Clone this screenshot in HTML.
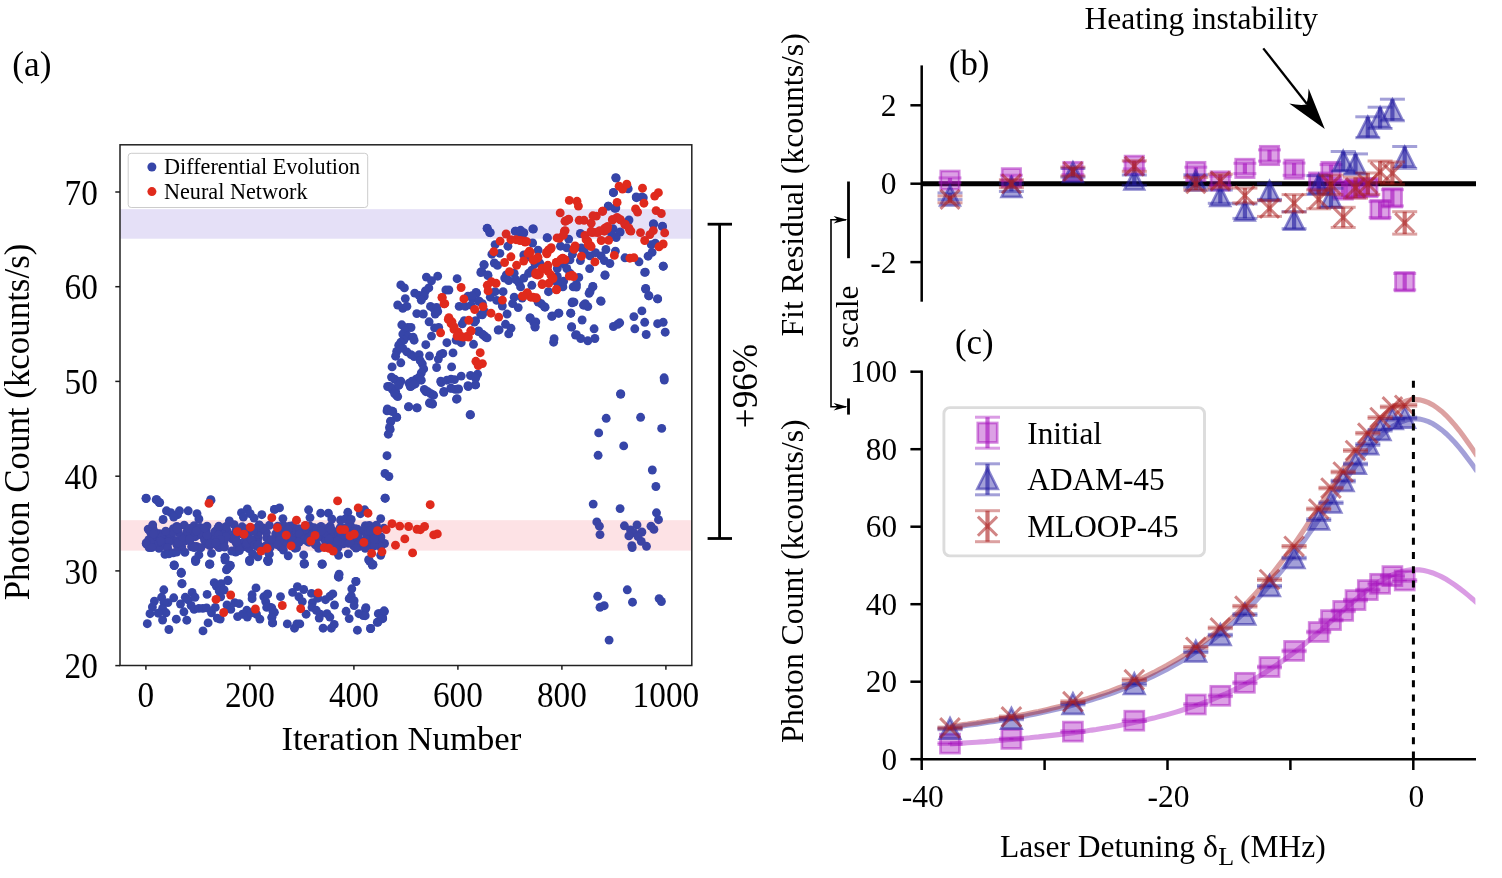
<!DOCTYPE html>
<html lang="en"><head><meta charset="utf-8"><title>Figure</title>
<style>html,body{margin:0;padding:0;background:#fff}svg{display:block}</style></head>
<body>
<svg width="1502" height="878" viewBox="0 0 1502 878" font-family="'Liberation Serif', serif">
<rect width="1502" height="878" fill="#fff"/>
<g id="panel-a">
<rect x="120.3" y="209.2" width="571" height="29.5" fill="#ece8f9"/>
<rect x="120.3" y="520.2" width="571" height="30.4" fill="#feeaec"/>
<g fill="#3645a8">
<circle cx="146.1" cy="498.5" r="4.45"/>
<circle cx="156.2" cy="499.7" r="4.45"/>
<circle cx="159.2" cy="502.5" r="4.45"/>
<circle cx="210.6" cy="499.7" r="4.45"/>
<circle cx="174.2" cy="565.5" r="4.45"/>
<circle cx="181.2" cy="573.2" r="4.45"/>
<circle cx="181.9" cy="583.7" r="4.45"/>
<circle cx="209.9" cy="563.9" r="4.45"/>
<circle cx="225.1" cy="557.6" r="4.45"/>
<circle cx="229.7" cy="566.2" r="4.45"/>
<circle cx="227.4" cy="568.6" r="4.45"/>
<circle cx="227.9" cy="580.7" r="4.45"/>
<circle cx="249.6" cy="560.4" r="4.45"/>
<circle cx="267.6" cy="560.4" r="4.45"/>
<circle cx="304.2" cy="563.4" r="4.45"/>
<circle cx="322.2" cy="563.9" r="4.45"/>
<circle cx="338.3" cy="576.7" r="4.45"/>
<circle cx="355.8" cy="581.4" r="4.45"/>
<circle cx="372.2" cy="565.1" r="4.45"/>
<circle cx="195.9" cy="560.4" r="4.45"/>
<circle cx="620.8" cy="394.0" r="4.45"/>
<circle cx="664.3" cy="380.0" r="4.45"/>
<circle cx="606.2" cy="418.3" r="4.45"/>
<circle cx="640.6" cy="417.3" r="4.45"/>
<circle cx="661.7" cy="428.4" r="4.45"/>
<circle cx="598.7" cy="432.9" r="4.45"/>
<circle cx="623.7" cy="445.9" r="4.45"/>
<circle cx="598.1" cy="455.3" r="4.45"/>
<circle cx="652.3" cy="470.0" r="4.45"/>
<circle cx="655.9" cy="486.5" r="4.45"/>
<circle cx="593.2" cy="504.1" r="4.45"/>
<circle cx="620.1" cy="508.6" r="4.45"/>
<circle cx="656.5" cy="512.8" r="4.45"/>
<circle cx="658.5" cy="519.7" r="4.45"/>
<circle cx="596.8" cy="521.9" r="4.45"/>
<circle cx="599.4" cy="526.2" r="4.45"/>
<circle cx="600.0" cy="534.6" r="4.45"/>
<circle cx="624.4" cy="525.8" r="4.45"/>
<circle cx="637.0" cy="524.9" r="4.45"/>
<circle cx="630.5" cy="530.0" r="4.45"/>
<circle cx="641.9" cy="532.0" r="4.45"/>
<circle cx="633.8" cy="532.6" r="4.45"/>
<circle cx="628.9" cy="535.9" r="4.45"/>
<circle cx="638.0" cy="536.5" r="4.45"/>
<circle cx="651.0" cy="526.2" r="4.45"/>
<circle cx="653.9" cy="529.4" r="4.45"/>
<circle cx="641.3" cy="541.4" r="4.45"/>
<circle cx="631.8" cy="545.6" r="4.45"/>
<circle cx="632.2" cy="547.6" r="4.45"/>
<circle cx="646.5" cy="546.3" r="4.45"/>
<circle cx="627.3" cy="589.8" r="4.45"/>
<circle cx="597.7" cy="596.3" r="4.45"/>
<circle cx="604.2" cy="605.7" r="4.45"/>
<circle cx="600.0" cy="607.3" r="4.45"/>
<circle cx="632.5" cy="602.2" r="4.45"/>
<circle cx="659.1" cy="598.6" r="4.45"/>
<circle cx="661.4" cy="601.5" r="4.45"/>
<circle cx="609.1" cy="640.1" r="4.45"/>
<circle cx="387.0" cy="410.9" r="4.45"/>
<circle cx="392.8" cy="411.5" r="4.45"/>
<circle cx="396.7" cy="417.3" r="4.45"/>
<circle cx="390.9" cy="421.6" r="4.45"/>
<circle cx="390.2" cy="429.4" r="4.45"/>
<circle cx="388.3" cy="434.2" r="4.45"/>
<circle cx="387.0" cy="455.7" r="4.45"/>
<circle cx="385.0" cy="473.5" r="4.45"/>
<circle cx="388.9" cy="476.5" r="4.45"/>
<circle cx="385.3" cy="498.2" r="4.45"/>
<circle cx="408.7" cy="406.6" r="4.45"/>
<circle cx="416.8" cy="407.9" r="4.45"/>
<circle cx="429.8" cy="403.4" r="4.45"/>
<circle cx="432.4" cy="404.0" r="4.45"/>
<circle cx="470.1" cy="414.8" r="4.45"/>
<circle cx="456.5" cy="399.2" r="4.45"/>
<circle cx="443.8" cy="392.3" r="4.45"/>
<circle cx="432.8" cy="394.9" r="4.45"/>
<circle cx="425.9" cy="391.7" r="4.45"/>
<circle cx="396.7" cy="395.6" r="4.45"/>
<circle cx="387.6" cy="386.5" r="4.45"/>
<circle cx="392.5" cy="389.7" r="4.45"/>
<circle cx="399.0" cy="384.9" r="4.45"/>
<circle cx="410.3" cy="386.5" r="4.45"/>
<circle cx="415.2" cy="383.9" r="4.45"/>
<circle cx="441.2" cy="382.6" r="4.45"/>
<circle cx="450.9" cy="388.1" r="4.45"/>
<circle cx="457.4" cy="389.1" r="4.45"/>
<circle cx="468.2" cy="386.5" r="4.45"/>
<circle cx="475.3" cy="384.9" r="4.45"/>
<circle cx="365.5" cy="609.0" r="4.45"/>
<circle cx="363.2" cy="615.5" r="4.45"/>
<circle cx="370.7" cy="628.5" r="4.45"/>
<circle cx="377.9" cy="622.0" r="4.45"/>
<circle cx="382.7" cy="618.7" r="4.45"/>
<circle cx="384.4" cy="611.6" r="4.45"/>
<circle cx="379.5" cy="613.8" r="4.45"/>
<circle cx="664.1" cy="377.8" r="4.45"/>
<circle cx="620.5" cy="394.0" r="4.45"/>
<circle cx="553.6" cy="342.2" r="4.45"/>
<circle cx="665.2" cy="332.2" r="4.45"/>
<circle cx="646.2" cy="334.5" r="4.45"/>
<circle cx="634.8" cy="328.8" r="4.45"/>
<circle cx="644.7" cy="322.3" r="4.45"/>
<circle cx="657.6" cy="323.7" r="4.45"/>
<circle cx="663.2" cy="322.3" r="4.45"/>
<circle cx="633.9" cy="316.6" r="4.45"/>
<circle cx="641.9" cy="310.9" r="4.45"/>
<circle cx="613.4" cy="326.5" r="4.45"/>
<circle cx="617.7" cy="324.3" r="4.45"/>
<circle cx="619.7" cy="322.8" r="4.45"/>
<circle cx="657.6" cy="298.9" r="4.45"/>
<circle cx="649.0" cy="295.8" r="4.45"/>
<circle cx="645.6" cy="289.0" r="4.45"/>
<circle cx="644.7" cy="272.4" r="4.45"/>
<circle cx="663.2" cy="266.2" r="4.45"/>
<circle cx="600.6" cy="300.9" r="4.45"/>
<circle cx="590.1" cy="291.5" r="4.45"/>
<circle cx="592.9" cy="286.7" r="4.45"/>
<circle cx="604.9" cy="275.3" r="4.45"/>
<circle cx="572.1" cy="302.9" r="4.45"/>
<circle cx="583.5" cy="305.2" r="4.45"/>
<circle cx="587.8" cy="306.6" r="4.45"/>
<circle cx="570.7" cy="313.2" r="4.45"/>
<circle cx="582.1" cy="320.0" r="4.45"/>
<circle cx="571.6" cy="327.1" r="4.45"/>
<circle cx="594.1" cy="328.8" r="4.45"/>
<circle cx="575.5" cy="335.1" r="4.45"/>
<circle cx="580.7" cy="338.5" r="4.45"/>
<circle cx="587.8" cy="340.8" r="4.45"/>
<circle cx="594.9" cy="338.5" r="4.45"/>
<circle cx="530.0" cy="318.0" r="4.45"/>
<circle cx="533.7" cy="322.3" r="4.45"/>
<circle cx="535.1" cy="327.1" r="4.45"/>
<circle cx="552.2" cy="316.0" r="4.45"/>
<circle cx="558.5" cy="313.2" r="4.45"/>
<circle cx="541.4" cy="303.8" r="4.45"/>
<circle cx="545.1" cy="307.2" r="4.45"/>
<circle cx="615.7" cy="177.6" r="4.45"/>
<circle cx="613.4" cy="192.7" r="4.45"/>
<circle cx="627.7" cy="188.4" r="4.45"/>
<circle cx="636.2" cy="197.0" r="4.45"/>
<circle cx="641.9" cy="197.0" r="4.45"/>
<circle cx="608.3" cy="206.1" r="4.45"/>
<circle cx="614.8" cy="208.4" r="4.45"/>
<circle cx="653.3" cy="224.0" r="4.45"/>
<circle cx="662.4" cy="226.3" r="4.45"/>
<circle cx="532.8" cy="228.9" r="4.45"/>
<circle cx="487.3" cy="228.3" r="4.45"/>
<circle cx="489.6" cy="232.6" r="4.45"/>
<circle cx="515.2" cy="231.2" r="4.45"/>
<circle cx="519.5" cy="232.6" r="4.45"/>
<circle cx="523.7" cy="233.1" r="4.45"/>
<circle cx="547.1" cy="237.7" r="4.45"/>
<circle cx="295.6" cy="546.0" r="4.45"/>
<circle cx="331.7" cy="529.9" r="4.45"/>
<circle cx="217.5" cy="545.5" r="4.45"/>
<circle cx="146.6" cy="544.2" r="4.45"/>
<circle cx="336.9" cy="535.7" r="4.45"/>
<circle cx="218.2" cy="531.2" r="4.45"/>
<circle cx="206.6" cy="535.2" r="4.45"/>
<circle cx="266.6" cy="537.8" r="4.45"/>
<circle cx="384.5" cy="543.5" r="4.45"/>
<circle cx="294.9" cy="548.2" r="4.45"/>
<circle cx="197.1" cy="528.3" r="4.45"/>
<circle cx="292.5" cy="525.6" r="4.45"/>
<circle cx="154.0" cy="536.9" r="4.45"/>
<circle cx="257.4" cy="546.5" r="4.45"/>
<circle cx="296.5" cy="536.8" r="4.45"/>
<circle cx="264.7" cy="530.4" r="4.45"/>
<circle cx="148.2" cy="529.1" r="4.45"/>
<circle cx="311.6" cy="529.3" r="4.45"/>
<circle cx="234.2" cy="524.6" r="4.45"/>
<circle cx="344.8" cy="528.2" r="4.45"/>
<circle cx="209.7" cy="545.6" r="4.45"/>
<circle cx="267.9" cy="544.8" r="4.45"/>
<circle cx="299.1" cy="542.3" r="4.45"/>
<circle cx="167.4" cy="537.5" r="4.45"/>
<circle cx="267.4" cy="545.4" r="4.45"/>
<circle cx="232.2" cy="538.9" r="4.45"/>
<circle cx="159.6" cy="533.8" r="4.45"/>
<circle cx="223.0" cy="528.1" r="4.45"/>
<circle cx="341.5" cy="533.6" r="4.45"/>
<circle cx="380.5" cy="538.7" r="4.45"/>
<circle cx="290.7" cy="539.8" r="4.45"/>
<circle cx="307.9" cy="528.1" r="4.45"/>
<circle cx="251.2" cy="530.2" r="4.45"/>
<circle cx="242.1" cy="526.8" r="4.45"/>
<circle cx="377.9" cy="529.7" r="4.45"/>
<circle cx="306.8" cy="531.7" r="4.45"/>
<circle cx="355.4" cy="540.4" r="4.45"/>
<circle cx="177.0" cy="544.8" r="4.45"/>
<circle cx="372.4" cy="546.2" r="4.45"/>
<circle cx="282.2" cy="528.0" r="4.45"/>
<circle cx="191.6" cy="546.8" r="4.45"/>
<circle cx="278.1" cy="528.8" r="4.45"/>
<circle cx="357.8" cy="539.9" r="4.45"/>
<circle cx="282.2" cy="533.5" r="4.45"/>
<circle cx="244.1" cy="530.2" r="4.45"/>
<circle cx="154.5" cy="545.5" r="4.45"/>
<circle cx="257.7" cy="537.6" r="4.45"/>
<circle cx="222.8" cy="542.5" r="4.45"/>
<circle cx="151.4" cy="533.4" r="4.45"/>
<circle cx="152.7" cy="527.4" r="4.45"/>
<circle cx="377.7" cy="540.3" r="4.45"/>
<circle cx="248.3" cy="537.1" r="4.45"/>
<circle cx="355.1" cy="532.8" r="4.45"/>
<circle cx="287.2" cy="540.9" r="4.45"/>
<circle cx="230.8" cy="537.0" r="4.45"/>
<circle cx="329.2" cy="546.3" r="4.45"/>
<circle cx="181.7" cy="546.9" r="4.45"/>
<circle cx="146.6" cy="542.6" r="4.45"/>
<circle cx="340.1" cy="527.8" r="4.45"/>
<circle cx="246.0" cy="544.1" r="4.45"/>
<circle cx="148.8" cy="539.6" r="4.45"/>
<circle cx="335.9" cy="536.8" r="4.45"/>
<circle cx="319.8" cy="529.9" r="4.45"/>
<circle cx="193.1" cy="533.2" r="4.45"/>
<circle cx="188.5" cy="532.8" r="4.45"/>
<circle cx="373.2" cy="538.3" r="4.45"/>
<circle cx="227.1" cy="531.0" r="4.45"/>
<circle cx="374.1" cy="535.2" r="4.45"/>
<circle cx="380.9" cy="536.9" r="4.45"/>
<circle cx="270.6" cy="546.0" r="4.45"/>
<circle cx="323.8" cy="538.4" r="4.45"/>
<circle cx="247.9" cy="545.6" r="4.45"/>
<circle cx="244.3" cy="546.6" r="4.45"/>
<circle cx="161.9" cy="534.8" r="4.45"/>
<circle cx="270.2" cy="547.3" r="4.45"/>
<circle cx="205.7" cy="543.8" r="4.45"/>
<circle cx="307.9" cy="541.7" r="4.45"/>
<circle cx="296.6" cy="547.8" r="4.45"/>
<circle cx="225.3" cy="534.1" r="4.45"/>
<circle cx="194.1" cy="525.7" r="4.45"/>
<circle cx="196.5" cy="546.5" r="4.45"/>
<circle cx="347.2" cy="527.2" r="4.45"/>
<circle cx="290.4" cy="536.0" r="4.45"/>
<circle cx="288.2" cy="540.3" r="4.45"/>
<circle cx="219.1" cy="547.6" r="4.45"/>
<circle cx="257.3" cy="539.6" r="4.45"/>
<circle cx="298.0" cy="528.9" r="4.45"/>
<circle cx="160.2" cy="534.4" r="4.45"/>
<circle cx="328.9" cy="544.1" r="4.45"/>
<circle cx="320.8" cy="527.2" r="4.45"/>
<circle cx="364.8" cy="543.7" r="4.45"/>
<circle cx="356.2" cy="537.1" r="4.45"/>
<circle cx="365.4" cy="525.6" r="4.45"/>
<circle cx="152.7" cy="525.0" r="4.45"/>
<circle cx="206.1" cy="530.5" r="4.45"/>
<circle cx="190.4" cy="538.1" r="4.45"/>
<circle cx="154.7" cy="538.7" r="4.45"/>
<circle cx="185.3" cy="540.8" r="4.45"/>
<circle cx="150.4" cy="532.0" r="4.45"/>
<circle cx="370.8" cy="537.4" r="4.45"/>
<circle cx="340.4" cy="540.3" r="4.45"/>
<circle cx="292.1" cy="529.1" r="4.45"/>
<circle cx="283.4" cy="525.5" r="4.45"/>
<circle cx="338.0" cy="547.5" r="4.45"/>
<circle cx="350.5" cy="525.7" r="4.45"/>
<circle cx="226.7" cy="532.1" r="4.45"/>
<circle cx="172.5" cy="539.5" r="4.45"/>
<circle cx="337.0" cy="532.0" r="4.45"/>
<circle cx="352.7" cy="543.6" r="4.45"/>
<circle cx="176.4" cy="542.9" r="4.45"/>
<circle cx="357.4" cy="529.2" r="4.45"/>
<circle cx="283.2" cy="539.8" r="4.45"/>
<circle cx="291.8" cy="526.8" r="4.45"/>
<circle cx="304.2" cy="539.7" r="4.45"/>
<circle cx="343.3" cy="543.8" r="4.45"/>
<circle cx="224.0" cy="541.8" r="4.45"/>
<circle cx="353.7" cy="545.9" r="4.45"/>
<circle cx="184.2" cy="525.1" r="4.45"/>
<circle cx="301.7" cy="529.7" r="4.45"/>
<circle cx="280.8" cy="547.2" r="4.45"/>
<circle cx="236.5" cy="530.6" r="4.45"/>
<circle cx="255.1" cy="540.3" r="4.45"/>
<circle cx="169.7" cy="533.6" r="4.45"/>
<circle cx="177.5" cy="540.4" r="4.45"/>
<circle cx="344.9" cy="533.5" r="4.45"/>
<circle cx="234.7" cy="537.4" r="4.45"/>
<circle cx="197.0" cy="530.4" r="4.45"/>
<circle cx="224.6" cy="535.5" r="4.45"/>
<circle cx="165.0" cy="542.6" r="4.45"/>
<circle cx="284.5" cy="531.7" r="4.45"/>
<circle cx="164.0" cy="542.8" r="4.45"/>
<circle cx="176.9" cy="527.7" r="4.45"/>
<circle cx="176.8" cy="526.5" r="4.45"/>
<circle cx="363.1" cy="531.0" r="4.45"/>
<circle cx="219.0" cy="544.5" r="4.45"/>
<circle cx="294.3" cy="529.0" r="4.45"/>
<circle cx="249.8" cy="545.7" r="4.45"/>
<circle cx="235.6" cy="541.6" r="4.45"/>
<circle cx="168.6" cy="542.0" r="4.45"/>
<circle cx="331.9" cy="544.3" r="4.45"/>
<circle cx="307.4" cy="533.4" r="4.45"/>
<circle cx="160.8" cy="537.0" r="4.45"/>
<circle cx="327.4" cy="529.1" r="4.45"/>
<circle cx="209.3" cy="537.4" r="4.45"/>
<circle cx="325.2" cy="546.0" r="4.45"/>
<circle cx="175.6" cy="528.9" r="4.45"/>
<circle cx="337.5" cy="540.0" r="4.45"/>
<circle cx="318.6" cy="548.4" r="4.45"/>
<circle cx="371.0" cy="544.7" r="4.45"/>
<circle cx="332.1" cy="534.0" r="4.45"/>
<circle cx="299.4" cy="528.9" r="4.45"/>
<circle cx="327.8" cy="542.7" r="4.45"/>
<circle cx="318.7" cy="535.2" r="4.45"/>
<circle cx="236.2" cy="534.6" r="4.45"/>
<circle cx="153.4" cy="544.8" r="4.45"/>
<circle cx="275.7" cy="533.8" r="4.45"/>
<circle cx="277.0" cy="541.8" r="4.45"/>
<circle cx="237.0" cy="544.4" r="4.45"/>
<circle cx="366.3" cy="533.8" r="4.45"/>
<circle cx="178.5" cy="542.7" r="4.45"/>
<circle cx="383.9" cy="528.1" r="4.45"/>
<circle cx="316.6" cy="544.3" r="4.45"/>
<circle cx="366.5" cy="527.5" r="4.45"/>
<circle cx="167.4" cy="548.2" r="4.45"/>
<circle cx="173.4" cy="528.7" r="4.45"/>
<circle cx="283.5" cy="535.2" r="4.45"/>
<circle cx="325.7" cy="529.1" r="4.45"/>
<circle cx="365.1" cy="529.7" r="4.45"/>
<circle cx="330.2" cy="526.1" r="4.45"/>
<circle cx="259.1" cy="525.3" r="4.45"/>
<circle cx="220.8" cy="532.0" r="4.45"/>
<circle cx="318.3" cy="535.4" r="4.45"/>
<circle cx="159.0" cy="548.4" r="4.45"/>
<circle cx="358.9" cy="546.5" r="4.45"/>
<circle cx="204.6" cy="534.0" r="4.45"/>
<circle cx="200.0" cy="527.5" r="4.45"/>
<circle cx="153.3" cy="536.6" r="4.45"/>
<circle cx="175.0" cy="528.7" r="4.45"/>
<circle cx="352.1" cy="536.1" r="4.45"/>
<circle cx="189.5" cy="540.6" r="4.45"/>
<circle cx="209.3" cy="537.1" r="4.45"/>
<circle cx="213.4" cy="536.9" r="4.45"/>
<circle cx="296.4" cy="537.4" r="4.45"/>
<circle cx="240.4" cy="543.5" r="4.45"/>
<circle cx="355.2" cy="528.8" r="4.45"/>
<circle cx="178.1" cy="527.2" r="4.45"/>
<circle cx="380.7" cy="547.1" r="4.45"/>
<circle cx="200.8" cy="547.8" r="4.45"/>
<circle cx="195.3" cy="536.7" r="4.45"/>
<circle cx="264.9" cy="546.5" r="4.45"/>
<circle cx="155.1" cy="532.1" r="4.45"/>
<circle cx="289.5" cy="526.1" r="4.45"/>
<circle cx="202.2" cy="535.7" r="4.45"/>
<circle cx="357.0" cy="542.8" r="4.45"/>
<circle cx="344.5" cy="542.8" r="4.45"/>
<circle cx="315.4" cy="544.9" r="4.45"/>
<circle cx="309.1" cy="542.2" r="4.45"/>
<circle cx="217.8" cy="528.5" r="4.45"/>
<circle cx="327.1" cy="528.5" r="4.45"/>
<circle cx="366.3" cy="538.8" r="4.45"/>
<circle cx="224.5" cy="547.0" r="4.45"/>
<circle cx="182.6" cy="536.8" r="4.45"/>
<circle cx="167.4" cy="547.7" r="4.45"/>
<circle cx="283.6" cy="543.8" r="4.45"/>
<circle cx="213.1" cy="543.7" r="4.45"/>
<circle cx="314.2" cy="539.9" r="4.45"/>
<circle cx="373.7" cy="534.9" r="4.45"/>
<circle cx="245.1" cy="541.1" r="4.45"/>
<circle cx="346.0" cy="532.5" r="4.45"/>
<circle cx="306.3" cy="529.5" r="4.45"/>
<circle cx="277.9" cy="543.0" r="4.45"/>
<circle cx="161.1" cy="542.0" r="4.45"/>
<circle cx="149.1" cy="547.5" r="4.45"/>
<circle cx="258.0" cy="534.3" r="4.45"/>
<circle cx="318.5" cy="537.1" r="4.45"/>
<circle cx="321.0" cy="526.5" r="4.45"/>
<circle cx="280.6" cy="537.9" r="4.45"/>
<circle cx="369.3" cy="525.5" r="4.45"/>
<circle cx="254.2" cy="539.6" r="4.45"/>
<circle cx="277.7" cy="526.3" r="4.45"/>
<circle cx="287.9" cy="529.8" r="4.45"/>
<circle cx="192.4" cy="545.6" r="4.45"/>
<circle cx="192.9" cy="535.4" r="4.45"/>
<circle cx="325.6" cy="541.5" r="4.45"/>
<circle cx="278.3" cy="543.9" r="4.45"/>
<circle cx="257.3" cy="539.4" r="4.45"/>
<circle cx="342.1" cy="540.8" r="4.45"/>
<circle cx="299.6" cy="534.2" r="4.45"/>
<circle cx="279.5" cy="534.0" r="4.45"/>
<circle cx="324.2" cy="533.6" r="4.45"/>
<circle cx="257.5" cy="542.6" r="4.45"/>
<circle cx="266.4" cy="532.6" r="4.45"/>
<circle cx="344.0" cy="533.6" r="4.45"/>
<circle cx="348.3" cy="543.3" r="4.45"/>
<circle cx="252.8" cy="541.6" r="4.45"/>
<circle cx="153.6" cy="533.9" r="4.45"/>
<circle cx="352.1" cy="538.4" r="4.45"/>
<circle cx="279.4" cy="540.5" r="4.45"/>
<circle cx="308.2" cy="538.5" r="4.45"/>
<circle cx="246.4" cy="528.9" r="4.45"/>
<circle cx="215.7" cy="531.5" r="4.45"/>
<circle cx="248.9" cy="548.5" r="4.45"/>
<circle cx="230.1" cy="535.2" r="4.45"/>
<circle cx="234.7" cy="538.5" r="4.45"/>
<circle cx="373.1" cy="545.8" r="4.45"/>
<circle cx="236.0" cy="530.9" r="4.45"/>
<circle cx="357.8" cy="536.4" r="4.45"/>
<circle cx="310.1" cy="526.3" r="4.45"/>
<circle cx="353.6" cy="532.0" r="4.45"/>
<circle cx="264.2" cy="529.3" r="4.45"/>
<circle cx="246.3" cy="544.4" r="4.45"/>
<circle cx="344.2" cy="535.9" r="4.45"/>
<circle cx="329.9" cy="535.5" r="4.45"/>
<circle cx="235.1" cy="537.6" r="4.45"/>
<circle cx="193.8" cy="532.1" r="4.45"/>
<circle cx="315.1" cy="543.0" r="4.45"/>
<circle cx="159.0" cy="542.1" r="4.45"/>
<circle cx="341.8" cy="535.2" r="4.45"/>
<circle cx="160.4" cy="540.9" r="4.45"/>
<circle cx="204.5" cy="539.9" r="4.45"/>
<circle cx="235.9" cy="539.8" r="4.45"/>
<circle cx="207.4" cy="535.9" r="4.45"/>
<circle cx="271.4" cy="539.6" r="4.45"/>
<circle cx="194.2" cy="547.6" r="4.45"/>
<circle cx="214.8" cy="531.8" r="4.45"/>
<circle cx="207.0" cy="526.1" r="4.45"/>
<circle cx="247.0" cy="543.0" r="4.45"/>
<circle cx="315.8" cy="529.2" r="4.45"/>
<circle cx="178.3" cy="532.2" r="4.45"/>
<circle cx="329.9" cy="536.2" r="4.45"/>
<circle cx="367.2" cy="540.3" r="4.45"/>
<circle cx="294.5" cy="542.9" r="4.45"/>
<circle cx="325.6" cy="532.8" r="4.45"/>
<circle cx="207.1" cy="535.0" r="4.45"/>
<circle cx="262.9" cy="527.9" r="4.45"/>
<circle cx="251.4" cy="539.9" r="4.45"/>
<circle cx="178.0" cy="527.8" r="4.45"/>
<circle cx="187.1" cy="531.3" r="4.45"/>
<circle cx="376.4" cy="525.1" r="4.45"/>
<circle cx="189.5" cy="528.5" r="4.45"/>
<circle cx="259.3" cy="524.9" r="4.45"/>
<circle cx="255.5" cy="528.4" r="4.45"/>
<circle cx="210.2" cy="543.5" r="4.45"/>
<circle cx="189.6" cy="539.3" r="4.45"/>
<circle cx="243.0" cy="534.5" r="4.45"/>
<circle cx="341.6" cy="528.4" r="4.45"/>
<circle cx="367.3" cy="545.9" r="4.45"/>
<circle cx="305.9" cy="525.7" r="4.45"/>
<circle cx="304.7" cy="538.9" r="4.45"/>
<circle cx="330.9" cy="529.6" r="4.45"/>
<circle cx="374.4" cy="545.8" r="4.45"/>
<circle cx="172.9" cy="532.1" r="4.45"/>
<circle cx="153.2" cy="544.4" r="4.45"/>
<circle cx="365.2" cy="548.3" r="4.45"/>
<circle cx="292.4" cy="540.5" r="4.45"/>
<circle cx="308.4" cy="538.2" r="4.45"/>
<circle cx="374.2" cy="539.1" r="4.45"/>
<circle cx="226.0" cy="536.8" r="4.45"/>
<circle cx="149.9" cy="541.9" r="4.45"/>
<circle cx="312.1" cy="534.6" r="4.45"/>
<circle cx="349.9" cy="542.6" r="4.45"/>
<circle cx="226.3" cy="526.4" r="4.45"/>
<circle cx="177.1" cy="528.9" r="4.45"/>
<circle cx="218.4" cy="535.2" r="4.45"/>
<circle cx="368.3" cy="531.2" r="4.45"/>
<circle cx="361.3" cy="540.8" r="4.45"/>
<circle cx="350.4" cy="534.2" r="4.45"/>
<circle cx="146.2" cy="543.4" r="4.45"/>
<circle cx="204.4" cy="527.9" r="4.45"/>
<circle cx="337.4" cy="541.0" r="4.45"/>
<circle cx="196.4" cy="530.9" r="4.45"/>
<circle cx="371.0" cy="530.9" r="4.45"/>
<circle cx="314.1" cy="527.6" r="4.45"/>
<circle cx="341.2" cy="527.3" r="4.45"/>
<circle cx="269.4" cy="525.3" r="4.45"/>
<circle cx="277.5" cy="544.8" r="4.45"/>
<circle cx="165.7" cy="531.1" r="4.45"/>
<circle cx="329.1" cy="539.1" r="4.45"/>
<circle cx="220.5" cy="539.6" r="4.45"/>
<circle cx="254.6" cy="545.2" r="4.45"/>
<circle cx="215.8" cy="542.7" r="4.45"/>
<circle cx="298.1" cy="542.3" r="4.45"/>
<circle cx="236.3" cy="541.9" r="4.45"/>
<circle cx="313.2" cy="533.8" r="4.45"/>
<circle cx="151.7" cy="547.6" r="4.45"/>
<circle cx="316.8" cy="529.4" r="4.45"/>
<circle cx="320.9" cy="531.2" r="4.45"/>
<circle cx="258.1" cy="545.1" r="4.45"/>
<circle cx="253.0" cy="531.4" r="4.45"/>
<circle cx="218.8" cy="526.3" r="4.45"/>
<circle cx="146.1" cy="498.2" r="4.45"/>
<circle cx="156.8" cy="499.7" r="4.45"/>
<circle cx="159.7" cy="502.6" r="4.45"/>
<circle cx="211.0" cy="500.2" r="4.45"/>
<circle cx="166.5" cy="510.8" r="4.45"/>
<circle cx="170.8" cy="512.7" r="4.45"/>
<circle cx="179.5" cy="510.8" r="4.45"/>
<circle cx="177.6" cy="514.7" r="4.45"/>
<circle cx="188.2" cy="510.8" r="4.45"/>
<circle cx="197.0" cy="513.7" r="4.45"/>
<circle cx="163.1" cy="519.5" r="4.45"/>
<circle cx="247.3" cy="508.9" r="4.45"/>
<circle cx="241.5" cy="512.7" r="4.45"/>
<circle cx="250.2" cy="513.7" r="4.45"/>
<circle cx="261.8" cy="514.7" r="4.45"/>
<circle cx="243.4" cy="517.1" r="4.45"/>
<circle cx="254.1" cy="518.1" r="4.45"/>
<circle cx="229.4" cy="521.0" r="4.45"/>
<circle cx="198.9" cy="519.0" r="4.45"/>
<circle cx="274.4" cy="509.4" r="4.45"/>
<circle cx="173.7" cy="517.1" r="4.45"/>
<circle cx="165.0" cy="554.4" r="4.45"/>
<circle cx="168.9" cy="553.9" r="4.45"/>
<circle cx="173.2" cy="552.9" r="4.45"/>
<circle cx="176.6" cy="552.0" r="4.45"/>
<circle cx="184.9" cy="552.4" r="4.45"/>
<circle cx="195.5" cy="559.7" r="4.45"/>
<circle cx="198.9" cy="554.9" r="4.45"/>
<circle cx="211.5" cy="553.4" r="4.45"/>
<circle cx="209.5" cy="564.1" r="4.45"/>
<circle cx="225.0" cy="557.3" r="4.45"/>
<circle cx="230.4" cy="565.5" r="4.45"/>
<circle cx="226.5" cy="569.9" r="4.45"/>
<circle cx="174.2" cy="565.0" r="4.45"/>
<circle cx="181.3" cy="572.3" r="4.45"/>
<circle cx="235.7" cy="552.0" r="4.45"/>
<circle cx="231.8" cy="551.0" r="4.45"/>
<circle cx="239.5" cy="550.5" r="4.45"/>
<circle cx="252.6" cy="553.9" r="4.45"/>
<circle cx="249.7" cy="560.2" r="4.45"/>
<circle cx="257.9" cy="556.8" r="4.45"/>
<circle cx="268.6" cy="552.9" r="4.45"/>
<circle cx="268.1" cy="560.2" r="4.45"/>
<circle cx="274.7" cy="509.4" r="4.45"/>
<circle cx="279.5" cy="507.9" r="4.45"/>
<circle cx="308.6" cy="509.8" r="4.45"/>
<circle cx="310.0" cy="517.6" r="4.45"/>
<circle cx="320.7" cy="513.2" r="4.45"/>
<circle cx="328.4" cy="513.2" r="4.45"/>
<circle cx="347.8" cy="512.3" r="4.45"/>
<circle cx="364.7" cy="509.8" r="4.45"/>
<circle cx="360.4" cy="513.7" r="4.45"/>
<circle cx="385.0" cy="498.2" r="4.45"/>
<circle cx="380.7" cy="518.6" r="4.45"/>
<circle cx="282.9" cy="518.6" r="4.45"/>
<circle cx="331.8" cy="519.0" r="4.45"/>
<circle cx="340.5" cy="520.0" r="4.45"/>
<circle cx="345.3" cy="519.0" r="4.45"/>
<circle cx="351.2" cy="519.5" r="4.45"/>
<circle cx="269.4" cy="553.9" r="4.45"/>
<circle cx="267.9" cy="560.2" r="4.45"/>
<circle cx="283.4" cy="550.0" r="4.45"/>
<circle cx="288.2" cy="555.8" r="4.45"/>
<circle cx="303.7" cy="554.9" r="4.45"/>
<circle cx="304.2" cy="564.1" r="4.45"/>
<circle cx="322.1" cy="564.1" r="4.45"/>
<circle cx="338.6" cy="555.3" r="4.45"/>
<circle cx="348.3" cy="553.9" r="4.45"/>
<circle cx="339.1" cy="574.2" r="4.45"/>
<circle cx="368.6" cy="559.7" r="4.45"/>
<circle cx="372.9" cy="564.5" r="4.45"/>
<circle cx="380.7" cy="555.3" r="4.45"/>
<circle cx="356.0" cy="548.1" r="4.45"/>
<circle cx="174.2" cy="565.3" r="4.45"/>
<circle cx="181.2" cy="573.1" r="4.45"/>
<circle cx="182.0" cy="583.7" r="4.45"/>
<circle cx="195.5" cy="561.5" r="4.45"/>
<circle cx="209.7" cy="564.4" r="4.45"/>
<circle cx="229.9" cy="565.3" r="4.45"/>
<circle cx="227.0" cy="569.2" r="4.45"/>
<circle cx="227.9" cy="580.3" r="4.45"/>
<circle cx="214.2" cy="582.7" r="4.45"/>
<circle cx="216.3" cy="586.1" r="4.45"/>
<circle cx="221.2" cy="583.7" r="4.45"/>
<circle cx="256.0" cy="587.9" r="4.45"/>
<circle cx="249.7" cy="561.5" r="4.45"/>
<circle cx="268.1" cy="561.5" r="4.45"/>
<circle cx="225.0" cy="560.0" r="4.45"/>
<circle cx="163.8" cy="589.8" r="4.45"/>
<circle cx="161.6" cy="597.3" r="4.45"/>
<circle cx="154.4" cy="601.1" r="4.45"/>
<circle cx="152.4" cy="607.0" r="4.45"/>
<circle cx="150.0" cy="613.7" r="4.45"/>
<circle cx="147.3" cy="623.7" r="4.45"/>
<circle cx="173.7" cy="597.8" r="4.45"/>
<circle cx="167.9" cy="602.6" r="4.45"/>
<circle cx="164.0" cy="602.6" r="4.45"/>
<circle cx="162.6" cy="608.4" r="4.45"/>
<circle cx="166.0" cy="612.8" r="4.45"/>
<circle cx="158.2" cy="613.2" r="4.45"/>
<circle cx="162.6" cy="620.0" r="4.45"/>
<circle cx="168.9" cy="629.5" r="4.45"/>
<circle cx="176.3" cy="619.2" r="4.45"/>
<circle cx="183.9" cy="611.8" r="4.45"/>
<circle cx="186.8" cy="620.2" r="4.45"/>
<circle cx="180.5" cy="604.0" r="4.45"/>
<circle cx="185.3" cy="597.3" r="4.45"/>
<circle cx="187.8" cy="599.7" r="4.45"/>
<circle cx="192.1" cy="592.4" r="4.45"/>
<circle cx="195.0" cy="597.3" r="4.45"/>
<circle cx="191.1" cy="605.5" r="4.45"/>
<circle cx="194.1" cy="609.4" r="4.45"/>
<circle cx="198.9" cy="608.4" r="4.45"/>
<circle cx="202.8" cy="608.4" r="4.45"/>
<circle cx="206.6" cy="607.9" r="4.45"/>
<circle cx="207.1" cy="594.4" r="4.45"/>
<circle cx="211.5" cy="612.8" r="4.45"/>
<circle cx="215.3" cy="607.4" r="4.45"/>
<circle cx="219.2" cy="591.0" r="4.45"/>
<circle cx="224.1" cy="590.0" r="4.45"/>
<circle cx="220.7" cy="596.8" r="4.45"/>
<circle cx="227.0" cy="605.0" r="4.45"/>
<circle cx="230.8" cy="609.4" r="4.45"/>
<circle cx="234.7" cy="602.6" r="4.45"/>
<circle cx="239.1" cy="603.6" r="4.45"/>
<circle cx="220.2" cy="619.1" r="4.45"/>
<circle cx="217.3" cy="618.1" r="4.45"/>
<circle cx="208.1" cy="622.9" r="4.45"/>
<circle cx="203.0" cy="630.9" r="4.45"/>
<circle cx="237.6" cy="616.6" r="4.45"/>
<circle cx="242.5" cy="614.2" r="4.45"/>
<circle cx="246.8" cy="610.3" r="4.45"/>
<circle cx="247.3" cy="617.1" r="4.45"/>
<circle cx="251.2" cy="612.8" r="4.45"/>
<circle cx="259.9" cy="619.1" r="4.45"/>
<circle cx="256.5" cy="614.2" r="4.45"/>
<circle cx="252.1" cy="594.8" r="4.45"/>
<circle cx="252.1" cy="598.7" r="4.45"/>
<circle cx="263.8" cy="596.8" r="4.45"/>
<circle cx="267.6" cy="593.9" r="4.45"/>
<circle cx="265.7" cy="601.6" r="4.45"/>
<circle cx="266.7" cy="607.4" r="4.45"/>
<circle cx="270.5" cy="607.4" r="4.45"/>
<circle cx="272.0" cy="617.1" r="4.45"/>
<circle cx="272.5" cy="622.9" r="4.45"/>
<circle cx="274.4" cy="612.3" r="4.45"/>
<circle cx="268.4" cy="561.0" r="4.45"/>
<circle cx="304.5" cy="563.9" r="4.45"/>
<circle cx="322.1" cy="564.4" r="4.45"/>
<circle cx="369.5" cy="561.0" r="4.45"/>
<circle cx="372.9" cy="564.8" r="4.45"/>
<circle cx="338.8" cy="577.2" r="4.45"/>
<circle cx="356.0" cy="581.5" r="4.45"/>
<circle cx="351.8" cy="588.8" r="4.45"/>
<circle cx="267.4" cy="594.4" r="4.45"/>
<circle cx="280.5" cy="596.6" r="4.45"/>
<circle cx="267.9" cy="606.5" r="4.45"/>
<circle cx="271.8" cy="607.9" r="4.45"/>
<circle cx="273.2" cy="612.3" r="4.45"/>
<circle cx="271.8" cy="617.6" r="4.45"/>
<circle cx="272.7" cy="622.9" r="4.45"/>
<circle cx="292.6" cy="592.4" r="4.45"/>
<circle cx="297.4" cy="586.6" r="4.45"/>
<circle cx="303.7" cy="589.5" r="4.45"/>
<circle cx="298.9" cy="596.8" r="4.45"/>
<circle cx="302.3" cy="601.6" r="4.45"/>
<circle cx="311.5" cy="593.4" r="4.45"/>
<circle cx="312.4" cy="602.6" r="4.45"/>
<circle cx="312.0" cy="607.4" r="4.45"/>
<circle cx="316.3" cy="610.3" r="4.45"/>
<circle cx="317.8" cy="598.2" r="4.45"/>
<circle cx="320.2" cy="614.2" r="4.45"/>
<circle cx="319.2" cy="618.1" r="4.45"/>
<circle cx="327.0" cy="613.7" r="4.45"/>
<circle cx="329.9" cy="617.1" r="4.45"/>
<circle cx="325.5" cy="599.7" r="4.45"/>
<circle cx="329.9" cy="596.3" r="4.45"/>
<circle cx="332.8" cy="593.9" r="4.45"/>
<circle cx="334.5" cy="605.0" r="4.45"/>
<circle cx="306.1" cy="614.2" r="4.45"/>
<circle cx="287.3" cy="623.9" r="4.45"/>
<circle cx="294.5" cy="628.2" r="4.45"/>
<circle cx="296.9" cy="623.9" r="4.45"/>
<circle cx="299.8" cy="623.9" r="4.45"/>
<circle cx="323.1" cy="628.2" r="4.45"/>
<circle cx="331.3" cy="628.2" r="4.45"/>
<circle cx="334.2" cy="624.4" r="4.45"/>
<circle cx="346.1" cy="611.3" r="4.45"/>
<circle cx="349.2" cy="618.6" r="4.45"/>
<circle cx="349.2" cy="598.7" r="4.45"/>
<circle cx="351.2" cy="595.8" r="4.45"/>
<circle cx="354.1" cy="600.7" r="4.45"/>
<circle cx="354.1" cy="605.5" r="4.45"/>
<circle cx="358.9" cy="613.7" r="4.45"/>
<circle cx="365.2" cy="615.7" r="4.45"/>
<circle cx="365.9" cy="607.7" r="4.45"/>
<circle cx="357.4" cy="630.2" r="4.45"/>
<circle cx="370.5" cy="628.5" r="4.45"/>
<circle cx="377.3" cy="622.4" r="4.45"/>
<circle cx="378.3" cy="613.7" r="4.45"/>
<circle cx="382.6" cy="617.6" r="4.45"/>
<circle cx="384.1" cy="610.8" r="4.45"/>
<circle cx="426.4" cy="277.1" r="4.45"/>
<circle cx="437.7" cy="276.2" r="4.45"/>
<circle cx="431.5" cy="280.8" r="4.45"/>
<circle cx="457.1" cy="278.7" r="4.45"/>
<circle cx="400.8" cy="284.9" r="4.45"/>
<circle cx="404.4" cy="287.9" r="4.45"/>
<circle cx="428.8" cy="287.9" r="4.45"/>
<circle cx="425.4" cy="291.0" r="4.45"/>
<circle cx="414.7" cy="293.1" r="4.45"/>
<circle cx="419.2" cy="295.5" r="4.45"/>
<circle cx="424.3" cy="296.1" r="4.45"/>
<circle cx="405.3" cy="298.6" r="4.45"/>
<circle cx="421.3" cy="300.2" r="4.45"/>
<circle cx="397.7" cy="305.0" r="4.45"/>
<circle cx="402.8" cy="308.4" r="4.45"/>
<circle cx="406.9" cy="306.4" r="4.45"/>
<circle cx="430.5" cy="306.4" r="4.45"/>
<circle cx="433.6" cy="308.4" r="4.45"/>
<circle cx="436.6" cy="307.4" r="4.45"/>
<circle cx="445.9" cy="290.0" r="4.45"/>
<circle cx="448.9" cy="290.0" r="4.45"/>
<circle cx="416.8" cy="313.6" r="4.45"/>
<circle cx="423.3" cy="314.0" r="4.45"/>
<circle cx="435.2" cy="314.0" r="4.45"/>
<circle cx="437.7" cy="311.5" r="4.45"/>
<circle cx="429.1" cy="321.8" r="4.45"/>
<circle cx="434.6" cy="327.9" r="4.45"/>
<circle cx="438.7" cy="327.5" r="4.45"/>
<circle cx="431.5" cy="336.1" r="4.45"/>
<circle cx="446.9" cy="342.7" r="4.45"/>
<circle cx="425.8" cy="344.7" r="4.45"/>
<circle cx="429.5" cy="356.0" r="4.45"/>
<circle cx="440.3" cy="354.6" r="4.45"/>
<circle cx="442.8" cy="353.5" r="4.45"/>
<circle cx="438.3" cy="359.1" r="4.45"/>
<circle cx="453.0" cy="352.9" r="4.45"/>
<circle cx="436.6" cy="367.5" r="4.45"/>
<circle cx="451.6" cy="366.9" r="4.45"/>
<circle cx="459.2" cy="306.4" r="4.45"/>
<circle cx="465.3" cy="306.4" r="4.45"/>
<circle cx="468.0" cy="296.1" r="4.45"/>
<circle cx="472.5" cy="298.2" r="4.45"/>
<circle cx="476.6" cy="293.1" r="4.45"/>
<circle cx="481.7" cy="271.5" r="4.45"/>
<circle cx="484.2" cy="264.8" r="4.45"/>
<circle cx="487.9" cy="275.6" r="4.45"/>
<circle cx="478.7" cy="301.3" r="4.45"/>
<circle cx="482.4" cy="303.7" r="4.45"/>
<circle cx="480.7" cy="314.6" r="4.45"/>
<circle cx="475.6" cy="320.7" r="4.45"/>
<circle cx="464.3" cy="320.7" r="4.45"/>
<circle cx="462.3" cy="323.8" r="4.45"/>
<circle cx="473.5" cy="344.3" r="4.45"/>
<circle cx="461.2" cy="342.7" r="4.45"/>
<circle cx="456.1" cy="340.2" r="4.45"/>
<circle cx="478.7" cy="331.0" r="4.45"/>
<circle cx="482.4" cy="334.1" r="4.45"/>
<circle cx="485.8" cy="337.1" r="4.45"/>
<circle cx="498.2" cy="330.0" r="4.45"/>
<circle cx="401.8" cy="324.8" r="4.45"/>
<circle cx="407.9" cy="327.5" r="4.45"/>
<circle cx="411.0" cy="327.5" r="4.45"/>
<circle cx="404.9" cy="331.0" r="4.45"/>
<circle cx="402.8" cy="334.1" r="4.45"/>
<circle cx="407.9" cy="336.1" r="4.45"/>
<circle cx="413.1" cy="337.1" r="4.45"/>
<circle cx="414.1" cy="340.2" r="4.45"/>
<circle cx="403.8" cy="340.2" r="4.45"/>
<circle cx="400.8" cy="342.3" r="4.45"/>
<circle cx="398.7" cy="345.3" r="4.45"/>
<circle cx="402.8" cy="348.4" r="4.45"/>
<circle cx="396.7" cy="351.5" r="4.45"/>
<circle cx="395.6" cy="356.2" r="4.45"/>
<circle cx="400.8" cy="362.8" r="4.45"/>
<circle cx="392.1" cy="366.9" r="4.45"/>
<circle cx="406.9" cy="351.9" r="4.45"/>
<circle cx="411.0" cy="354.6" r="4.45"/>
<circle cx="414.1" cy="356.6" r="4.45"/>
<circle cx="419.2" cy="354.6" r="4.45"/>
<circle cx="420.2" cy="360.7" r="4.45"/>
<circle cx="422.3" cy="363.8" r="4.45"/>
<circle cx="423.7" cy="368.9" r="4.45"/>
<circle cx="421.3" cy="373.0" r="4.45"/>
<circle cx="419.2" cy="377.1" r="4.45"/>
<circle cx="416.1" cy="379.2" r="4.45"/>
<circle cx="421.3" cy="380.2" r="4.45"/>
<circle cx="412.0" cy="381.2" r="4.45"/>
<circle cx="409.0" cy="383.3" r="4.45"/>
<circle cx="411.0" cy="386.4" r="4.45"/>
<circle cx="414.1" cy="384.3" r="4.45"/>
<circle cx="391.5" cy="377.1" r="4.45"/>
<circle cx="394.6" cy="379.2" r="4.45"/>
<circle cx="397.7" cy="381.2" r="4.45"/>
<circle cx="400.8" cy="381.2" r="4.45"/>
<circle cx="389.5" cy="386.4" r="4.45"/>
<circle cx="392.6" cy="388.4" r="4.45"/>
<circle cx="395.6" cy="391.5" r="4.45"/>
<circle cx="398.7" cy="385.3" r="4.45"/>
<circle cx="397.7" cy="396.6" r="4.45"/>
<circle cx="394.6" cy="393.5" r="4.45"/>
<circle cx="424.3" cy="389.4" r="4.45"/>
<circle cx="427.4" cy="391.5" r="4.45"/>
<circle cx="430.5" cy="393.5" r="4.45"/>
<circle cx="433.6" cy="395.2" r="4.45"/>
<circle cx="429.5" cy="402.8" r="4.45"/>
<circle cx="432.5" cy="403.8" r="4.45"/>
<circle cx="408.5" cy="406.9" r="4.45"/>
<circle cx="417.2" cy="407.9" r="4.45"/>
<circle cx="387.4" cy="408.9" r="4.45"/>
<circle cx="391.5" cy="411.0" r="4.45"/>
<circle cx="396.7" cy="417.1" r="4.45"/>
<circle cx="390.5" cy="421.2" r="4.45"/>
<circle cx="389.5" cy="427.4" r="4.45"/>
<circle cx="440.7" cy="381.2" r="4.45"/>
<circle cx="446.9" cy="380.2" r="4.45"/>
<circle cx="451.0" cy="379.2" r="4.45"/>
<circle cx="454.5" cy="379.6" r="4.45"/>
<circle cx="461.2" cy="376.1" r="4.45"/>
<circle cx="470.5" cy="375.5" r="4.45"/>
<circle cx="477.6" cy="374.1" r="4.45"/>
<circle cx="475.6" cy="378.2" r="4.45"/>
<circle cx="443.8" cy="391.5" r="4.45"/>
<circle cx="451.0" cy="388.4" r="4.45"/>
<circle cx="455.1" cy="389.4" r="4.45"/>
<circle cx="458.6" cy="389.0" r="4.45"/>
<circle cx="468.0" cy="385.7" r="4.45"/>
<circle cx="475.6" cy="384.9" r="4.45"/>
<circle cx="457.1" cy="398.7" r="4.45"/>
<circle cx="470.5" cy="414.7" r="4.45"/>
<circle cx="487.1" cy="228.4" r="4.45"/>
<circle cx="490.3" cy="232.7" r="4.45"/>
<circle cx="515.8" cy="231.1" r="4.45"/>
<circle cx="520.6" cy="230.3" r="4.45"/>
<circle cx="523.8" cy="232.7" r="4.45"/>
<circle cx="533.4" cy="229.0" r="4.45"/>
<circle cx="547.4" cy="237.9" r="4.45"/>
<circle cx="568.7" cy="239.1" r="4.45"/>
<circle cx="532.6" cy="243.0" r="4.45"/>
<circle cx="507.9" cy="246.2" r="4.45"/>
<circle cx="495.1" cy="244.6" r="4.45"/>
<circle cx="491.9" cy="254.2" r="4.45"/>
<circle cx="499.9" cy="253.4" r="4.45"/>
<circle cx="538.1" cy="250.2" r="4.45"/>
<circle cx="523.8" cy="255.0" r="4.45"/>
<circle cx="526.2" cy="257.4" r="4.45"/>
<circle cx="560.5" cy="246.2" r="4.45"/>
<circle cx="566.8" cy="247.8" r="4.45"/>
<circle cx="570.0" cy="259.8" r="4.45"/>
<circle cx="563.6" cy="263.8" r="4.45"/>
<circle cx="557.3" cy="268.5" r="4.45"/>
<circle cx="566.8" cy="268.5" r="4.45"/>
<circle cx="570.0" cy="273.3" r="4.45"/>
<circle cx="557.3" cy="276.5" r="4.45"/>
<circle cx="483.9" cy="264.6" r="4.45"/>
<circle cx="494.3" cy="263.0" r="4.45"/>
<circle cx="497.5" cy="265.4" r="4.45"/>
<circle cx="480.8" cy="272.5" r="4.45"/>
<circle cx="487.9" cy="274.9" r="4.45"/>
<circle cx="506.3" cy="274.9" r="4.45"/>
<circle cx="504.7" cy="278.1" r="4.45"/>
<circle cx="508.7" cy="280.5" r="4.45"/>
<circle cx="514.2" cy="273.3" r="4.45"/>
<circle cx="515.8" cy="279.7" r="4.45"/>
<circle cx="519.0" cy="282.9" r="4.45"/>
<circle cx="523.8" cy="278.1" r="4.45"/>
<circle cx="528.6" cy="273.3" r="4.45"/>
<circle cx="531.8" cy="270.1" r="4.45"/>
<circle cx="520.6" cy="286.9" r="4.45"/>
<circle cx="531.8" cy="285.3" r="4.45"/>
<circle cx="535.0" cy="263.8" r="4.45"/>
<circle cx="539.7" cy="263.0" r="4.45"/>
<circle cx="548.5" cy="291.7" r="4.45"/>
<circle cx="562.9" cy="286.9" r="4.45"/>
<circle cx="563.6" cy="281.3" r="4.45"/>
<circle cx="557.3" cy="282.9" r="4.45"/>
<circle cx="573.2" cy="286.9" r="4.45"/>
<circle cx="576.4" cy="284.5" r="4.45"/>
<circle cx="476.0" cy="292.5" r="4.45"/>
<circle cx="472.0" cy="295.6" r="4.45"/>
<circle cx="495.1" cy="291.7" r="4.45"/>
<circle cx="503.1" cy="291.7" r="4.45"/>
<circle cx="490.3" cy="297.2" r="4.45"/>
<circle cx="496.7" cy="300.4" r="4.45"/>
<circle cx="479.2" cy="301.2" r="4.45"/>
<circle cx="471.2" cy="305.2" r="4.45"/>
<circle cx="482.3" cy="314.8" r="4.45"/>
<circle cx="484.7" cy="311.6" r="4.45"/>
<circle cx="502.3" cy="306.0" r="4.45"/>
<circle cx="507.1" cy="314.0" r="4.45"/>
<circle cx="514.2" cy="297.2" r="4.45"/>
<circle cx="512.6" cy="303.6" r="4.45"/>
<circle cx="518.2" cy="307.6" r="4.45"/>
<circle cx="522.2" cy="298.0" r="4.45"/>
<circle cx="538.1" cy="302.0" r="4.45"/>
<circle cx="544.5" cy="306.8" r="4.45"/>
<circle cx="572.4" cy="302.0" r="4.45"/>
<circle cx="558.9" cy="313.2" r="4.45"/>
<circle cx="551.7" cy="316.4" r="4.45"/>
<circle cx="570.8" cy="313.2" r="4.45"/>
<circle cx="530.2" cy="318.0" r="4.45"/>
<circle cx="535.8" cy="322.0" r="4.45"/>
<circle cx="535.0" cy="326.7" r="4.45"/>
<circle cx="505.5" cy="324.3" r="4.45"/>
<circle cx="511.0" cy="328.3" r="4.45"/>
<circle cx="499.1" cy="329.9" r="4.45"/>
<circle cx="508.7" cy="333.9" r="4.45"/>
<circle cx="478.4" cy="331.5" r="4.45"/>
<circle cx="483.9" cy="335.5" r="4.45"/>
<circle cx="487.1" cy="337.9" r="4.45"/>
<circle cx="474.4" cy="322.0" r="4.45"/>
<circle cx="571.6" cy="326.7" r="4.45"/>
<circle cx="576.4" cy="334.7" r="4.45"/>
<circle cx="554.1" cy="338.7" r="4.45"/>
<circle cx="572.4" cy="254.2" r="4.45"/>
<circle cx="574.8" cy="247.8" r="4.45"/>
<circle cx="616.2" cy="178.1" r="4.45"/>
<circle cx="613.5" cy="192.4" r="4.45"/>
<circle cx="628.2" cy="188.9" r="4.45"/>
<circle cx="636.5" cy="197.7" r="4.45"/>
<circle cx="643.3" cy="197.7" r="4.45"/>
<circle cx="608.3" cy="206.1" r="4.45"/>
<circle cx="615.8" cy="208.0" r="4.45"/>
<circle cx="629.0" cy="220.0" r="4.45"/>
<circle cx="653.7" cy="224.0" r="4.45"/>
<circle cx="662.5" cy="226.4" r="4.45"/>
<circle cx="580.4" cy="233.5" r="4.45"/>
<circle cx="613.1" cy="228.8" r="4.45"/>
<circle cx="620.2" cy="232.0" r="4.45"/>
<circle cx="616.2" cy="237.5" r="4.45"/>
<circle cx="611.5" cy="233.5" r="4.45"/>
<circle cx="651.3" cy="244.7" r="4.45"/>
<circle cx="655.3" cy="243.1" r="4.45"/>
<circle cx="652.1" cy="252.4" r="4.45"/>
<circle cx="648.1" cy="256.2" r="4.45"/>
<circle cx="581.2" cy="247.9" r="4.45"/>
<circle cx="584.4" cy="251.9" r="4.45"/>
<circle cx="580.4" cy="260.6" r="4.45"/>
<circle cx="589.9" cy="255.9" r="4.45"/>
<circle cx="595.5" cy="252.7" r="4.45"/>
<circle cx="601.1" cy="255.9" r="4.45"/>
<circle cx="605.9" cy="249.5" r="4.45"/>
<circle cx="615.4" cy="251.1" r="4.45"/>
<circle cx="604.3" cy="260.6" r="4.45"/>
<circle cx="609.9" cy="263.5" r="4.45"/>
<circle cx="625.0" cy="257.8" r="4.45"/>
<circle cx="639.0" cy="261.8" r="4.45"/>
<circle cx="589.6" cy="268.6" r="4.45"/>
<circle cx="605.1" cy="275.0" r="4.45"/>
<circle cx="645.3" cy="272.1" r="4.45"/>
<circle cx="663.3" cy="266.2" r="4.45"/>
<circle cx="578.8" cy="277.4" r="4.45"/>
<circle cx="576.4" cy="287.0" r="4.45"/>
<circle cx="592.8" cy="286.5" r="4.45"/>
<circle cx="589.1" cy="293.3" r="4.45"/>
<circle cx="645.7" cy="288.5" r="4.45"/>
<circle cx="648.6" cy="295.7" r="4.45"/>
<circle cx="657.7" cy="298.9" r="4.45"/>
<circle cx="601.1" cy="301.3" r="4.45"/>
<circle cx="585.2" cy="303.7" r="4.45"/>
<circle cx="574.0" cy="302.1" r="4.45"/>
</g>
<g fill="#e02a1c">
<circle cx="209.0" cy="503.4" r="4.45"/>
<circle cx="337.6" cy="500.9" r="4.45"/>
<circle cx="358.2" cy="507.9" r="4.45"/>
<circle cx="368.0" cy="513.2" r="4.45"/>
<circle cx="271.8" cy="517.7" r="4.45"/>
<circle cx="296.5" cy="520.2" r="4.45"/>
<circle cx="305.2" cy="525.4" r="4.45"/>
<circle cx="250.3" cy="527.2" r="4.45"/>
<circle cx="237.4" cy="531.7" r="4.45"/>
<circle cx="244.0" cy="534.2" r="4.45"/>
<circle cx="277.4" cy="527.7" r="4.45"/>
<circle cx="286.2" cy="535.2" r="4.45"/>
<circle cx="315.0" cy="535.4" r="4.45"/>
<circle cx="310.8" cy="541.0" r="4.45"/>
<circle cx="291.1" cy="545.9" r="4.45"/>
<circle cx="267.1" cy="548.3" r="4.45"/>
<circle cx="261.0" cy="551.1" r="4.45"/>
<circle cx="324.3" cy="547.6" r="4.45"/>
<circle cx="329.0" cy="548.3" r="4.45"/>
<circle cx="333.2" cy="551.1" r="4.45"/>
<circle cx="340.6" cy="529.6" r="4.45"/>
<circle cx="344.6" cy="529.6" r="4.45"/>
<circle cx="350.0" cy="535.9" r="4.45"/>
<circle cx="354.2" cy="534.2" r="4.45"/>
<circle cx="363.8" cy="542.4" r="4.45"/>
<circle cx="371.7" cy="553.4" r="4.45"/>
<circle cx="382.0" cy="551.8" r="4.45"/>
<circle cx="377.5" cy="530.7" r="4.45"/>
<circle cx="386.2" cy="529.6" r="4.45"/>
<circle cx="392.0" cy="523.7" r="4.45"/>
<circle cx="399.7" cy="526.1" r="4.45"/>
<circle cx="408.6" cy="526.5" r="4.45"/>
<circle cx="417.0" cy="529.3" r="4.45"/>
<circle cx="404.8" cy="538.9" r="4.45"/>
<circle cx="395.5" cy="545.2" r="4.45"/>
<circle cx="412.6" cy="552.9" r="4.45"/>
<circle cx="230.7" cy="595.0" r="4.45"/>
<circle cx="216.0" cy="599.4" r="4.45"/>
<circle cx="223.7" cy="612.5" r="4.45"/>
<circle cx="255.4" cy="609.0" r="4.45"/>
<circle cx="282.3" cy="605.5" r="4.45"/>
<circle cx="300.7" cy="608.7" r="4.45"/>
<circle cx="318.2" cy="592.9" r="4.45"/>
<circle cx="430.2" cy="504.7" r="4.45"/>
<circle cx="433.7" cy="534.9" r="4.45"/>
<circle cx="437.3" cy="533.9" r="4.45"/>
<circle cx="424.6" cy="526.5" r="4.45"/>
<circle cx="420.4" cy="529.7" r="4.45"/>
<circle cx="569.3" cy="200.4" r="4.45"/>
<circle cx="577.0" cy="201.3" r="4.45"/>
<circle cx="578.4" cy="206.1" r="4.45"/>
<circle cx="560.2" cy="212.9" r="4.45"/>
<circle cx="568.7" cy="219.2" r="4.45"/>
<circle cx="565.0" cy="221.2" r="4.45"/>
<circle cx="579.2" cy="220.3" r="4.45"/>
<circle cx="584.1" cy="220.3" r="4.45"/>
<circle cx="591.2" cy="223.2" r="4.45"/>
<circle cx="596.3" cy="216.1" r="4.45"/>
<circle cx="602.6" cy="211.2" r="4.45"/>
<circle cx="617.1" cy="202.4" r="4.45"/>
<circle cx="619.1" cy="186.2" r="4.45"/>
<circle cx="622.5" cy="189.0" r="4.45"/>
<circle cx="626.8" cy="184.2" r="4.45"/>
<circle cx="642.5" cy="188.2" r="4.45"/>
<circle cx="658.4" cy="192.7" r="4.45"/>
<circle cx="654.7" cy="196.1" r="4.45"/>
<circle cx="643.9" cy="203.2" r="4.45"/>
<circle cx="635.6" cy="208.9" r="4.45"/>
<circle cx="637.6" cy="212.1" r="4.45"/>
<circle cx="656.1" cy="210.6" r="4.45"/>
<circle cx="661.3" cy="213.5" r="4.45"/>
<circle cx="664.7" cy="232.9" r="4.45"/>
<circle cx="663.2" cy="244.0" r="4.45"/>
<circle cx="659.0" cy="246.8" r="4.45"/>
<circle cx="653.3" cy="230.6" r="4.45"/>
<circle cx="649.9" cy="234.6" r="4.45"/>
<circle cx="644.7" cy="240.5" r="4.45"/>
<circle cx="640.5" cy="232.6" r="4.45"/>
<circle cx="629.9" cy="230.6" r="4.45"/>
<circle cx="624.8" cy="224.6" r="4.45"/>
<circle cx="620.5" cy="219.8" r="4.45"/>
<circle cx="617.1" cy="217.5" r="4.45"/>
<circle cx="612.8" cy="219.8" r="4.45"/>
<circle cx="607.2" cy="228.9" r="4.45"/>
<circle cx="604.3" cy="231.2" r="4.45"/>
<circle cx="597.8" cy="232.6" r="4.45"/>
<circle cx="592.1" cy="232.6" r="4.45"/>
<circle cx="584.9" cy="235.4" r="4.45"/>
<circle cx="587.8" cy="241.1" r="4.45"/>
<circle cx="590.1" cy="245.4" r="4.45"/>
<circle cx="601.2" cy="240.5" r="4.45"/>
<circle cx="608.6" cy="240.3" r="4.45"/>
<circle cx="614.3" cy="255.4" r="4.45"/>
<circle cx="629.9" cy="258.2" r="4.45"/>
<circle cx="633.9" cy="257.6" r="4.45"/>
<circle cx="594.9" cy="261.9" r="4.45"/>
<circle cx="581.5" cy="256.2" r="4.45"/>
<circle cx="574.1" cy="248.8" r="4.45"/>
<circle cx="572.1" cy="275.3" r="4.45"/>
<circle cx="569.3" cy="276.1" r="4.45"/>
<circle cx="556.5" cy="289.5" r="4.45"/>
<circle cx="548.8" cy="283.3" r="4.45"/>
<circle cx="542.2" cy="283.8" r="4.45"/>
<circle cx="552.2" cy="277.3" r="4.45"/>
<circle cx="547.9" cy="271.0" r="4.45"/>
<circle cx="539.4" cy="274.4" r="4.45"/>
<circle cx="535.7" cy="274.4" r="4.45"/>
<circle cx="542.2" cy="268.2" r="4.45"/>
<circle cx="547.9" cy="265.3" r="4.45"/>
<circle cx="556.5" cy="262.5" r="4.45"/>
<circle cx="562.7" cy="258.2" r="4.45"/>
<circle cx="565.0" cy="259.6" r="4.45"/>
<circle cx="559.3" cy="238.3" r="4.45"/>
<circle cx="564.4" cy="231.2" r="4.45"/>
<circle cx="546.5" cy="252.5" r="4.45"/>
<circle cx="550.8" cy="248.8" r="4.45"/>
<circle cx="538.0" cy="257.3" r="4.45"/>
<circle cx="532.8" cy="259.6" r="4.45"/>
<circle cx="529.4" cy="251.1" r="4.45"/>
<circle cx="523.7" cy="261.0" r="4.45"/>
<circle cx="516.6" cy="265.3" r="4.45"/>
<circle cx="509.5" cy="271.6" r="4.45"/>
<circle cx="504.6" cy="262.5" r="4.45"/>
<circle cx="510.9" cy="256.8" r="4.45"/>
<circle cx="493.8" cy="251.7" r="4.45"/>
<circle cx="500.1" cy="241.1" r="4.45"/>
<circle cx="506.1" cy="234.0" r="4.45"/>
<circle cx="510.9" cy="239.7" r="4.45"/>
<circle cx="516.0" cy="239.7" r="4.45"/>
<circle cx="520.0" cy="240.5" r="4.45"/>
<circle cx="525.1" cy="242.0" r="4.45"/>
<circle cx="491.5" cy="281.8" r="4.45"/>
<circle cx="496.1" cy="283.3" r="4.45"/>
<circle cx="487.3" cy="285.3" r="4.45"/>
<circle cx="488.1" cy="290.9" r="4.45"/>
<circle cx="502.4" cy="300.1" r="4.45"/>
<circle cx="522.3" cy="296.1" r="4.45"/>
<circle cx="527.1" cy="293.2" r="4.45"/>
<circle cx="530.8" cy="297.2" r="4.45"/>
<circle cx="535.7" cy="298.1" r="4.45"/>
<circle cx="461.1" cy="287.5" r="4.45"/>
<circle cx="463.9" cy="298.9" r="4.45"/>
<circle cx="442.0" cy="297.5" r="4.45"/>
<circle cx="444.0" cy="303.8" r="4.45"/>
<circle cx="474.7" cy="309.5" r="4.45"/>
<circle cx="483.0" cy="306.6" r="4.45"/>
<circle cx="491.0" cy="313.2" r="4.45"/>
<circle cx="498.7" cy="317.1" r="4.45"/>
<circle cx="468.8" cy="320.3" r="4.45"/>
<circle cx="448.3" cy="319.4" r="4.45"/>
<circle cx="451.1" cy="323.7" r="4.45"/>
<circle cx="454.0" cy="329.4" r="4.45"/>
<circle cx="458.2" cy="332.2" r="4.45"/>
<circle cx="461.1" cy="336.5" r="4.45"/>
<circle cx="466.8" cy="336.5" r="4.45"/>
<circle cx="471.0" cy="330.8" r="4.45"/>
<circle cx="440.6" cy="332.8" r="4.45"/>
<circle cx="480.2" cy="352.7" r="4.45"/>
<circle cx="475.9" cy="361.3" r="4.45"/>
<circle cx="482.4" cy="363.6" r="4.45"/>
<circle cx="478.2" cy="365.5" r="4.45"/>
<circle cx="612.3" cy="219.7" r="4.45"/>
<circle cx="620.2" cy="219.7" r="4.45"/>
<circle cx="625.2" cy="224.2" r="4.45"/>
<circle cx="628.9" cy="227.9" r="4.45"/>
<circle cx="630.9" cy="231.1" r="4.45"/>
<circle cx="604.7" cy="228.3" r="4.45"/>
<circle cx="607.7" cy="226.5" r="4.45"/>
<circle cx="599.7" cy="230.6" r="4.45"/>
<circle cx="595.2" cy="232.4" r="4.45"/>
<circle cx="591.1" cy="231.1" r="4.45"/>
<circle cx="586.1" cy="239.7" r="4.45"/>
<circle cx="588.3" cy="244.7" r="4.45"/>
<circle cx="591.1" cy="246.6" r="4.45"/>
<circle cx="575.1" cy="245.9" r="4.45"/>
<circle cx="574.0" cy="249.3" r="4.45"/>
<circle cx="562.8" cy="258.4" r="4.45"/>
<circle cx="560.5" cy="259.8" r="4.45"/>
<circle cx="556.4" cy="262.5" r="4.45"/>
<circle cx="546.9" cy="253.8" r="4.45"/>
<circle cx="548.5" cy="250.0" r="4.45"/>
<circle cx="551.2" cy="247.7" r="4.45"/>
<circle cx="537.1" cy="258.4" r="4.45"/>
<circle cx="533.7" cy="260.2" r="4.45"/>
<circle cx="530.3" cy="252.3" r="4.45"/>
<circle cx="528.0" cy="253.4" r="4.45"/>
<circle cx="523.4" cy="240.9" r="4.45"/>
<circle cx="526.4" cy="241.5" r="4.45"/>
<circle cx="542.1" cy="269.3" r="4.45"/>
<circle cx="547.3" cy="266.6" r="4.45"/>
<circle cx="550.8" cy="275.0" r="4.45"/>
<circle cx="553.0" cy="278.5" r="4.45"/>
<circle cx="537.8" cy="275.0" r="4.45"/>
<circle cx="535.9" cy="272.8" r="4.45"/>
<circle cx="571.3" cy="275.7" r="4.45"/>
<circle cx="573.5" cy="276.6" r="4.45"/>
<circle cx="527.3" cy="292.8" r="4.45"/>
<circle cx="523.4" cy="296.2" r="4.45"/>
<circle cx="533.0" cy="297.1" r="4.45"/>
<circle cx="536.4" cy="297.8" r="4.45"/>
<circle cx="542.1" cy="284.6" r="4.45"/>
<circle cx="556.4" cy="289.8" r="4.45"/>
<circle cx="565.6" cy="221.0" r="4.45"/>
<circle cx="568.3" cy="219.7" r="4.45"/>
<circle cx="565.1" cy="230.6" r="4.45"/>
<circle cx="563.3" cy="235.2" r="4.45"/>
<circle cx="557.1" cy="237.9" r="4.45"/>
<circle cx="592.9" cy="215.8" r="4.45"/>
<circle cx="602.5" cy="211.3" r="4.45"/>
<circle cx="452.0" cy="321.8" r="4.45"/>
<circle cx="454.1" cy="326.9" r="4.45"/>
<circle cx="457.1" cy="336.1" r="4.45"/>
<circle cx="463.3" cy="337.1" r="4.45"/>
<circle cx="468.4" cy="337.1" r="4.45"/>
<circle cx="470.9" cy="331.0" r="4.45"/>
<circle cx="444.8" cy="303.7" r="4.45"/>
<circle cx="442.2" cy="297.6" r="4.45"/>
<circle cx="448.9" cy="317.7" r="4.45"/>
</g>
<rect x="120.3" y="209.2" width="571" height="29.5" fill="rgb(60,20,200)" fill-opacity="0.035"/>
<rect x="120.3" y="520.2" width="571" height="30.4" fill="rgb(240,20,60)" fill-opacity="0.035"/>
<rect x="120" y="144.8" width="571.8" height="520.7" fill="none" stroke="#222" stroke-width="1.5"/>
<g stroke="#1c1c1c" stroke-width="1.5">
<line x1="115.3" x2="120" y1="665.6" y2="665.6"/>
<line x1="115.3" x2="120" y1="570.9" y2="570.9"/>
<line x1="115.3" x2="120" y1="476.2" y2="476.2"/>
<line x1="115.3" x2="120" y1="381.4" y2="381.4"/>
<line x1="115.3" x2="120" y1="286.7" y2="286.7"/>
<line x1="115.3" x2="120" y1="192.0" y2="192.0"/>
<line x1="145.9" x2="145.9" y1="665.5" y2="669.8"/>
<line x1="249.9" x2="249.9" y1="665.5" y2="669.8"/>
<line x1="353.9" x2="353.9" y1="665.5" y2="669.8"/>
<line x1="457.9" x2="457.9" y1="665.5" y2="669.8"/>
<line x1="561.9" x2="561.9" y1="665.5" y2="669.8"/>
<line x1="665.9" x2="665.9" y1="665.5" y2="669.8"/>
</g>
<g font-size="35.3" fill="#000">
<text transform="translate(97.8,678.2) scale(1,1.1)" text-anchor="end" font-size="33.3">20</text>
<text transform="translate(97.8,583.5) scale(1,1.1)" text-anchor="end" font-size="33.3">30</text>
<text transform="translate(97.8,488.8) scale(1,1.1)" text-anchor="end" font-size="33.3">40</text>
<text transform="translate(97.8,394.0) scale(1,1.1)" text-anchor="end" font-size="33.3">50</text>
<text transform="translate(97.8,299.3) scale(1,1.1)" text-anchor="end" font-size="33.3">60</text>
<text transform="translate(97.8,204.6) scale(1,1.1)" text-anchor="end" font-size="33.3">70</text>
<text transform="translate(145.9,707.2) scale(1,1.1)" text-anchor="middle" font-size="33.3">0</text>
<text transform="translate(249.9,707.2) scale(1,1.1)" text-anchor="middle" font-size="33.3">200</text>
<text transform="translate(353.9,707.2) scale(1,1.1)" text-anchor="middle" font-size="33.3">400</text>
<text transform="translate(457.9,707.2) scale(1,1.1)" text-anchor="middle" font-size="33.3">600</text>
<text transform="translate(561.9,707.2) scale(1,1.1)" text-anchor="middle" font-size="33.3">800</text>
<text transform="translate(665.9,707.2) scale(1,1.1)" text-anchor="middle" font-size="33.3">1000</text>
<text x="401.3" y="749.9" text-anchor="middle" font-size="34.7">Iteration Number</text>
<text transform="translate(28.8,422) rotate(-90)" text-anchor="middle" font-size="34.9">Photon Count (kcounts/s)</text>
<text x="12.3" y="75.6">(a)</text>
</g>
<rect x="128.2" y="153.3" width="239.5" height="54.2" rx="3" ry="3" fill="#fff" fill-opacity="0.8" stroke="#cccccc" stroke-width="1"/>
<circle cx="151.9" cy="167" r="4.5" fill="#3645a8"/><circle cx="151.9" cy="191.6" r="4.5" fill="#e02a1c"/>
<g font-size="22.2" fill="#000"><text x="164" y="174">Differential Evolution</text><text x="164" y="198.6">Neural Network</text></g>
<g stroke="#000" stroke-width="2.8" fill="none"><line x1="719.6" x2="719.6" y1="224.2" y2="538.5"/><line x1="707.6" x2="732" y1="224.2" y2="224.2"/><line x1="707.6" x2="732" y1="538.5" y2="538.5"/></g>
<text transform="translate(757,386) rotate(-90)" font-size="35.2" text-anchor="middle">+96%</text>
</g>
<g id="panel-b">
<line x1="922" x2="1476" y1="183.7" y2="183.7" stroke="#000" stroke-width="5"/>
<g stroke="#a813be" fill="none"><line x1="950.0" x2="950.0" y1="177.9" y2="182.5" stroke-width="4.2" stroke-opacity="0.62"/><line x1="938.5" x2="961.5" y1="177.9" y2="177.9" stroke-width="3" stroke-opacity="0.42"/><line x1="938.5" x2="961.5" y1="182.5" y2="182.5" stroke-width="3" stroke-opacity="0.42"/></g>
<rect x="940.8" y="171.0" width="18.4" height="18.4" fill="#a813be" fill-opacity="0.4" stroke="#a813be" stroke-opacity="0.5" stroke-width="2.7"/>
<g stroke="#a813be" fill="none"><line x1="1011.4" x2="1011.4" y1="175.2" y2="180.5" stroke-width="4.2" stroke-opacity="0.62"/><line x1="999.9" x2="1022.9" y1="175.2" y2="175.2" stroke-width="3" stroke-opacity="0.42"/><line x1="999.9" x2="1022.9" y1="180.5" y2="180.5" stroke-width="3" stroke-opacity="0.42"/></g>
<rect x="1002.2" y="168.6" width="18.4" height="18.4" fill="#a813be" fill-opacity="0.4" stroke="#a813be" stroke-opacity="0.5" stroke-width="2.7"/>
<g stroke="#a813be" fill="none"><line x1="1072.9" x2="1072.9" y1="168.5" y2="174.6" stroke-width="4.2" stroke-opacity="0.62"/><line x1="1061.4" x2="1084.4" y1="168.5" y2="168.5" stroke-width="3" stroke-opacity="0.42"/><line x1="1061.4" x2="1084.4" y1="174.6" y2="174.6" stroke-width="3" stroke-opacity="0.42"/></g>
<rect x="1063.7" y="162.3" width="18.4" height="18.4" fill="#a813be" fill-opacity="0.4" stroke="#a813be" stroke-opacity="0.5" stroke-width="2.7"/>
<g stroke="#a813be" fill="none"><line x1="1134.3" x2="1134.3" y1="161.7" y2="168.9" stroke-width="4.2" stroke-opacity="0.62"/><line x1="1122.8" x2="1145.8" y1="161.7" y2="161.7" stroke-width="3" stroke-opacity="0.42"/><line x1="1122.8" x2="1145.8" y1="168.9" y2="168.9" stroke-width="3" stroke-opacity="0.42"/></g>
<rect x="1125.1" y="156.1" width="18.4" height="18.4" fill="#a813be" fill-opacity="0.4" stroke="#a813be" stroke-opacity="0.5" stroke-width="2.7"/>
<g stroke="#a813be" fill="none"><line x1="1195.8" x2="1195.8" y1="167.2" y2="175.9" stroke-width="4.2" stroke-opacity="0.62"/><line x1="1184.3" x2="1207.3" y1="167.2" y2="167.2" stroke-width="3" stroke-opacity="0.42"/><line x1="1184.3" x2="1207.3" y1="175.9" y2="175.9" stroke-width="3" stroke-opacity="0.42"/></g>
<rect x="1186.6" y="162.3" width="18.4" height="18.4" fill="#a813be" fill-opacity="0.4" stroke="#a813be" stroke-opacity="0.5" stroke-width="2.7"/>
<g stroke="#a813be" fill="none"><line x1="1220.3" x2="1220.3" y1="176.2" y2="185.7" stroke-width="4.2" stroke-opacity="0.62"/><line x1="1208.8" x2="1231.8" y1="176.2" y2="176.2" stroke-width="3" stroke-opacity="0.42"/><line x1="1208.8" x2="1231.8" y1="185.7" y2="185.7" stroke-width="3" stroke-opacity="0.42"/></g>
<rect x="1211.1" y="171.8" width="18.4" height="18.4" fill="#a813be" fill-opacity="0.4" stroke="#a813be" stroke-opacity="0.5" stroke-width="2.7"/>
<g stroke="#a813be" fill="none"><line x1="1244.9" x2="1244.9" y1="163.3" y2="173.6" stroke-width="4.2" stroke-opacity="0.62"/><line x1="1233.4" x2="1256.4" y1="163.3" y2="163.3" stroke-width="3" stroke-opacity="0.42"/><line x1="1233.4" x2="1256.4" y1="173.6" y2="173.6" stroke-width="3" stroke-opacity="0.42"/></g>
<rect x="1235.7" y="159.2" width="18.4" height="18.4" fill="#a813be" fill-opacity="0.4" stroke="#a813be" stroke-opacity="0.5" stroke-width="2.7"/>
<g stroke="#a813be" fill="none"><line x1="1269.5" x2="1269.5" y1="149.9" y2="161.1" stroke-width="4.2" stroke-opacity="0.62"/><line x1="1258.0" x2="1281.0" y1="149.9" y2="149.9" stroke-width="3" stroke-opacity="0.42"/><line x1="1258.0" x2="1281.0" y1="161.1" y2="161.1" stroke-width="3" stroke-opacity="0.42"/></g>
<rect x="1260.3" y="146.3" width="18.4" height="18.4" fill="#a813be" fill-opacity="0.4" stroke="#a813be" stroke-opacity="0.5" stroke-width="2.7"/>
<g stroke="#a813be" fill="none"><line x1="1294.1" x2="1294.1" y1="163.1" y2="175.3" stroke-width="4.2" stroke-opacity="0.62"/><line x1="1282.6" x2="1305.6" y1="163.1" y2="163.1" stroke-width="3" stroke-opacity="0.42"/><line x1="1282.6" x2="1305.6" y1="175.3" y2="175.3" stroke-width="3" stroke-opacity="0.42"/></g>
<rect x="1284.9" y="160.0" width="18.4" height="18.4" fill="#a813be" fill-opacity="0.4" stroke="#a813be" stroke-opacity="0.5" stroke-width="2.7"/>
<g stroke="#a813be" fill="none"><line x1="1318.7" x2="1318.7" y1="175.4" y2="188.8" stroke-width="4.2" stroke-opacity="0.62"/><line x1="1307.2" x2="1330.2" y1="175.4" y2="175.4" stroke-width="3" stroke-opacity="0.42"/><line x1="1307.2" x2="1330.2" y1="188.8" y2="188.8" stroke-width="3" stroke-opacity="0.42"/></g>
<rect x="1309.5" y="172.9" width="18.4" height="18.4" fill="#a813be" fill-opacity="0.4" stroke="#a813be" stroke-opacity="0.5" stroke-width="2.7"/>
<g stroke="#a813be" fill="none"><line x1="1331.0" x2="1331.0" y1="164.6" y2="178.5" stroke-width="4.2" stroke-opacity="0.62"/><line x1="1319.5" x2="1342.5" y1="164.6" y2="164.6" stroke-width="3" stroke-opacity="0.42"/><line x1="1319.5" x2="1342.5" y1="178.5" y2="178.5" stroke-width="3" stroke-opacity="0.42"/></g>
<rect x="1321.8" y="162.3" width="18.4" height="18.4" fill="#a813be" fill-opacity="0.4" stroke="#a813be" stroke-opacity="0.5" stroke-width="2.7"/>
<g stroke="#a813be" fill="none"><line x1="1343.2" x2="1343.2" y1="182.7" y2="197.2" stroke-width="4.2" stroke-opacity="0.62"/><line x1="1331.7" x2="1354.7" y1="182.7" y2="182.7" stroke-width="3" stroke-opacity="0.42"/><line x1="1331.7" x2="1354.7" y1="197.2" y2="197.2" stroke-width="3" stroke-opacity="0.42"/></g>
<rect x="1334.0" y="180.8" width="18.4" height="18.4" fill="#a813be" fill-opacity="0.4" stroke="#a813be" stroke-opacity="0.5" stroke-width="2.7"/>
<g stroke="#a813be" fill="none"><line x1="1355.5" x2="1355.5" y1="181.3" y2="196.3" stroke-width="4.2" stroke-opacity="0.62"/><line x1="1344.0" x2="1367.0" y1="181.3" y2="181.3" stroke-width="3" stroke-opacity="0.42"/><line x1="1344.0" x2="1367.0" y1="196.3" y2="196.3" stroke-width="3" stroke-opacity="0.42"/></g>
<rect x="1346.3" y="179.6" width="18.4" height="18.4" fill="#a813be" fill-opacity="0.4" stroke="#a813be" stroke-opacity="0.5" stroke-width="2.7"/>
<g stroke="#a813be" fill="none"><line x1="1367.8" x2="1367.8" y1="179.9" y2="195.4" stroke-width="4.2" stroke-opacity="0.62"/><line x1="1356.3" x2="1379.3" y1="179.9" y2="179.9" stroke-width="3" stroke-opacity="0.42"/><line x1="1356.3" x2="1379.3" y1="195.4" y2="195.4" stroke-width="3" stroke-opacity="0.42"/></g>
<rect x="1358.6" y="178.4" width="18.4" height="18.4" fill="#a813be" fill-opacity="0.4" stroke="#a813be" stroke-opacity="0.5" stroke-width="2.7"/>
<g stroke="#a813be" fill="none"><line x1="1380.1" x2="1380.1" y1="201.6" y2="217.5" stroke-width="4.2" stroke-opacity="0.62"/><line x1="1368.6" x2="1391.6" y1="201.6" y2="201.6" stroke-width="3" stroke-opacity="0.42"/><line x1="1368.6" x2="1391.6" y1="217.5" y2="217.5" stroke-width="3" stroke-opacity="0.42"/></g>
<rect x="1370.9" y="200.4" width="18.4" height="18.4" fill="#a813be" fill-opacity="0.4" stroke="#a813be" stroke-opacity="0.5" stroke-width="2.7"/>
<g stroke="#a813be" fill="none"><line x1="1392.4" x2="1392.4" y1="189.7" y2="205.9" stroke-width="4.2" stroke-opacity="0.62"/><line x1="1380.9" x2="1403.9" y1="189.7" y2="189.7" stroke-width="3" stroke-opacity="0.42"/><line x1="1380.9" x2="1403.9" y1="205.9" y2="205.9" stroke-width="3" stroke-opacity="0.42"/></g>
<rect x="1383.2" y="188.6" width="18.4" height="18.4" fill="#a813be" fill-opacity="0.4" stroke="#a813be" stroke-opacity="0.5" stroke-width="2.7"/>
<g stroke="#a813be" fill="none"><line x1="1404.7" x2="1404.7" y1="273.5" y2="289.9" stroke-width="4.2" stroke-opacity="0.62"/><line x1="1393.2" x2="1416.2" y1="273.5" y2="273.5" stroke-width="3" stroke-opacity="0.42"/><line x1="1393.2" x2="1416.2" y1="289.9" y2="289.9" stroke-width="3" stroke-opacity="0.42"/></g>
<rect x="1395.5" y="272.5" width="18.4" height="18.4" fill="#a813be" fill-opacity="0.4" stroke="#a813be" stroke-opacity="0.5" stroke-width="2.7"/>
<g stroke="#241ca2" fill="none"><line x1="950.0" x2="950.0" y1="192.9" y2="199.6" stroke-width="4.2" stroke-opacity="0.62"/><line x1="937.5" x2="962.5" y1="192.9" y2="192.9" stroke-width="3" stroke-opacity="0.42"/><line x1="937.5" x2="962.5" y1="199.6" y2="199.6" stroke-width="3" stroke-opacity="0.42"/></g>
<path d="M950.0 185.9 L959.8 205.5 L940.2 205.5 Z" fill="#241ca2" fill-opacity="0.42" stroke="#241ca2" stroke-opacity="0.52" stroke-width="2.7" stroke-linejoin="miter"/>
<g stroke="#241ca2" fill="none"><line x1="1011.4" x2="1011.4" y1="183.8" y2="191.4" stroke-width="4.2" stroke-opacity="0.62"/><line x1="998.9" x2="1023.9" y1="183.8" y2="183.8" stroke-width="3" stroke-opacity="0.42"/><line x1="998.9" x2="1023.9" y1="191.4" y2="191.4" stroke-width="3" stroke-opacity="0.42"/></g>
<path d="M1011.4 177.3 L1021.2 196.9 L1001.6 196.9 Z" fill="#241ca2" fill-opacity="0.42" stroke="#241ca2" stroke-opacity="0.52" stroke-width="2.7" stroke-linejoin="miter"/>
<g stroke="#241ca2" fill="none"><line x1="1072.9" x2="1072.9" y1="168.4" y2="177.1" stroke-width="4.2" stroke-opacity="0.62"/><line x1="1060.4" x2="1085.4" y1="168.4" y2="168.4" stroke-width="3" stroke-opacity="0.42"/><line x1="1060.4" x2="1085.4" y1="177.1" y2="177.1" stroke-width="3" stroke-opacity="0.42"/></g>
<path d="M1072.9 162.4 L1082.7 182.0 L1063.1 182.0 Z" fill="#241ca2" fill-opacity="0.42" stroke="#241ca2" stroke-opacity="0.52" stroke-width="2.7" stroke-linejoin="miter"/>
<g stroke="#241ca2" fill="none"><line x1="1134.3" x2="1134.3" y1="175.0" y2="185.3" stroke-width="4.2" stroke-opacity="0.62"/><line x1="1121.8" x2="1146.8" y1="175.0" y2="175.0" stroke-width="3" stroke-opacity="0.42"/><line x1="1121.8" x2="1146.8" y1="185.3" y2="185.3" stroke-width="3" stroke-opacity="0.42"/></g>
<path d="M1134.3 169.9 L1144.1 189.5 L1124.5 189.5 Z" fill="#241ca2" fill-opacity="0.42" stroke="#241ca2" stroke-opacity="0.52" stroke-width="2.7" stroke-linejoin="miter"/>
<g stroke="#241ca2" fill="none"><line x1="1195.8" x2="1195.8" y1="174.8" y2="187.1" stroke-width="4.2" stroke-opacity="0.62"/><line x1="1183.3" x2="1208.3" y1="174.8" y2="174.8" stroke-width="3" stroke-opacity="0.42"/><line x1="1183.3" x2="1208.3" y1="187.1" y2="187.1" stroke-width="3" stroke-opacity="0.42"/></g>
<path d="M1195.8 170.7 L1205.6 190.3 L1186.0 190.3 Z" fill="#241ca2" fill-opacity="0.42" stroke="#241ca2" stroke-opacity="0.52" stroke-width="2.7" stroke-linejoin="miter"/>
<g stroke="#241ca2" fill="none"><line x1="1220.3" x2="1220.3" y1="190.0" y2="203.3" stroke-width="4.2" stroke-opacity="0.62"/><line x1="1207.8" x2="1232.8" y1="190.0" y2="190.0" stroke-width="3" stroke-opacity="0.42"/><line x1="1207.8" x2="1232.8" y1="203.3" y2="203.3" stroke-width="3" stroke-opacity="0.42"/></g>
<path d="M1220.3 186.3 L1230.1 205.9 L1210.5 205.9 Z" fill="#241ca2" fill-opacity="0.42" stroke="#241ca2" stroke-opacity="0.52" stroke-width="2.7" stroke-linejoin="miter"/>
<g stroke="#241ca2" fill="none"><line x1="1244.9" x2="1244.9" y1="203.9" y2="218.4" stroke-width="4.2" stroke-opacity="0.62"/><line x1="1232.4" x2="1257.4" y1="203.9" y2="203.9" stroke-width="3" stroke-opacity="0.42"/><line x1="1232.4" x2="1257.4" y1="218.4" y2="218.4" stroke-width="3" stroke-opacity="0.42"/></g>
<path d="M1244.9 200.8 L1254.7 220.4 L1235.1 220.4 Z" fill="#241ca2" fill-opacity="0.42" stroke="#241ca2" stroke-opacity="0.52" stroke-width="2.7" stroke-linejoin="miter"/>
<g stroke="#241ca2" fill="none"><line x1="1269.5" x2="1269.5" y1="183.7" y2="199.4" stroke-width="4.2" stroke-opacity="0.62"/><line x1="1257.0" x2="1282.0" y1="183.7" y2="183.7" stroke-width="3" stroke-opacity="0.42"/><line x1="1257.0" x2="1282.0" y1="199.4" y2="199.4" stroke-width="3" stroke-opacity="0.42"/></g>
<path d="M1269.5 181.2 L1279.3 200.8 L1259.7 200.8 Z" fill="#241ca2" fill-opacity="0.42" stroke="#241ca2" stroke-opacity="0.52" stroke-width="2.7" stroke-linejoin="miter"/>
<g stroke="#241ca2" fill="none"><line x1="1294.1" x2="1294.1" y1="211.7" y2="228.7" stroke-width="4.2" stroke-opacity="0.62"/><line x1="1281.6" x2="1306.6" y1="211.7" y2="211.7" stroke-width="3" stroke-opacity="0.42"/><line x1="1281.6" x2="1306.6" y1="228.7" y2="228.7" stroke-width="3" stroke-opacity="0.42"/></g>
<path d="M1294.1 209.9 L1303.9 229.5 L1284.3 229.5 Z" fill="#241ca2" fill-opacity="0.42" stroke="#241ca2" stroke-opacity="0.52" stroke-width="2.7" stroke-linejoin="miter"/>
<g stroke="#241ca2" fill="none"><line x1="1318.7" x2="1318.7" y1="175.7" y2="194.1" stroke-width="4.2" stroke-opacity="0.62"/><line x1="1306.2" x2="1331.2" y1="175.7" y2="175.7" stroke-width="3" stroke-opacity="0.42"/><line x1="1306.2" x2="1331.2" y1="194.1" y2="194.1" stroke-width="3" stroke-opacity="0.42"/></g>
<path d="M1318.7 174.6 L1328.5 194.2 L1308.9 194.2 Z" fill="#241ca2" fill-opacity="0.42" stroke="#241ca2" stroke-opacity="0.52" stroke-width="2.7" stroke-linejoin="miter"/>
<g stroke="#241ca2" fill="none"><line x1="1331.0" x2="1331.0" y1="188.3" y2="207.4" stroke-width="4.2" stroke-opacity="0.62"/><line x1="1318.5" x2="1343.5" y1="188.3" y2="188.3" stroke-width="3" stroke-opacity="0.42"/><line x1="1318.5" x2="1343.5" y1="207.4" y2="207.4" stroke-width="3" stroke-opacity="0.42"/></g>
<path d="M1331.0 187.5 L1340.8 207.1 L1321.2 207.1 Z" fill="#241ca2" fill-opacity="0.42" stroke="#241ca2" stroke-opacity="0.52" stroke-width="2.7" stroke-linejoin="miter"/>
<g stroke="#241ca2" fill="none"><line x1="1343.2" x2="1343.2" y1="151.5" y2="171.2" stroke-width="4.2" stroke-opacity="0.62"/><line x1="1330.7" x2="1355.7" y1="151.5" y2="151.5" stroke-width="3" stroke-opacity="0.42"/><line x1="1330.7" x2="1355.7" y1="171.2" y2="171.2" stroke-width="3" stroke-opacity="0.42"/></g>
<path d="M1343.2 151.1 L1353.0 170.7 L1333.4 170.7 Z" fill="#241ca2" fill-opacity="0.42" stroke="#241ca2" stroke-opacity="0.52" stroke-width="2.7" stroke-linejoin="miter"/>
<g stroke="#241ca2" fill="none"><line x1="1355.5" x2="1355.5" y1="153.9" y2="174.3" stroke-width="4.2" stroke-opacity="0.62"/><line x1="1343.0" x2="1368.0" y1="153.9" y2="153.9" stroke-width="3" stroke-opacity="0.42"/><line x1="1343.0" x2="1368.0" y1="174.3" y2="174.3" stroke-width="3" stroke-opacity="0.42"/></g>
<path d="M1355.5 153.8 L1365.3 173.4 L1345.7 173.4 Z" fill="#241ca2" fill-opacity="0.42" stroke="#241ca2" stroke-opacity="0.52" stroke-width="2.7" stroke-linejoin="miter"/>
<g stroke="#241ca2" fill="none"><line x1="1367.8" x2="1367.8" y1="116.8" y2="137.7" stroke-width="4.2" stroke-opacity="0.62"/><line x1="1355.3" x2="1380.3" y1="116.8" y2="116.8" stroke-width="3" stroke-opacity="0.42"/><line x1="1355.3" x2="1380.3" y1="137.7" y2="137.7" stroke-width="3" stroke-opacity="0.42"/></g>
<path d="M1367.8 117.0 L1377.6 136.6 L1358.0 136.6 Z" fill="#241ca2" fill-opacity="0.42" stroke="#241ca2" stroke-opacity="0.52" stroke-width="2.7" stroke-linejoin="miter"/>
<g stroke="#241ca2" fill="none"><line x1="1380.1" x2="1380.1" y1="107.2" y2="128.5" stroke-width="4.2" stroke-opacity="0.62"/><line x1="1367.6" x2="1392.6" y1="107.2" y2="107.2" stroke-width="3" stroke-opacity="0.42"/><line x1="1367.6" x2="1392.6" y1="128.5" y2="128.5" stroke-width="3" stroke-opacity="0.42"/></g>
<path d="M1380.1 107.5 L1389.9 127.1 L1370.3 127.1 Z" fill="#241ca2" fill-opacity="0.42" stroke="#241ca2" stroke-opacity="0.52" stroke-width="2.7" stroke-linejoin="miter"/>
<g stroke="#241ca2" fill="none"><line x1="1392.4" x2="1392.4" y1="99.2" y2="120.8" stroke-width="4.2" stroke-opacity="0.62"/><line x1="1379.9" x2="1404.9" y1="99.2" y2="99.2" stroke-width="3" stroke-opacity="0.42"/><line x1="1379.9" x2="1404.9" y1="120.8" y2="120.8" stroke-width="3" stroke-opacity="0.42"/></g>
<path d="M1392.4 99.7 L1402.2 119.3 L1382.6 119.3 Z" fill="#241ca2" fill-opacity="0.42" stroke="#241ca2" stroke-opacity="0.52" stroke-width="2.7" stroke-linejoin="miter"/>
<g stroke="#241ca2" fill="none"><line x1="1404.7" x2="1404.7" y1="146.5" y2="168.4" stroke-width="4.2" stroke-opacity="0.62"/><line x1="1392.2" x2="1417.2" y1="146.5" y2="146.5" stroke-width="3" stroke-opacity="0.42"/><line x1="1392.2" x2="1417.2" y1="168.4" y2="168.4" stroke-width="3" stroke-opacity="0.42"/></g>
<path d="M1404.7 147.1 L1414.5 166.7 L1394.9 166.7 Z" fill="#241ca2" fill-opacity="0.42" stroke="#241ca2" stroke-opacity="0.52" stroke-width="2.7" stroke-linejoin="miter"/>
<g stroke="#ac2020" fill="none"><line x1="950.0" x2="950.0" y1="196.0" y2="202.8" stroke-width="4.2" stroke-opacity="0.62"/><line x1="937.5" x2="962.5" y1="196.0" y2="196.0" stroke-width="3" stroke-opacity="0.42"/><line x1="937.5" x2="962.5" y1="202.8" y2="202.8" stroke-width="3" stroke-opacity="0.42"/></g>
<path d="M940.5 189.9 L959.5 208.9 M940.5 208.9 L959.5 189.9" fill="none" stroke="#ac2020" stroke-opacity="0.55" stroke-width="3"/>
<g stroke="#ac2020" fill="none"><line x1="1011.4" x2="1011.4" y1="179.8" y2="187.6" stroke-width="4.2" stroke-opacity="0.62"/><line x1="998.9" x2="1023.9" y1="179.8" y2="179.8" stroke-width="3" stroke-opacity="0.42"/><line x1="998.9" x2="1023.9" y1="187.6" y2="187.6" stroke-width="3" stroke-opacity="0.42"/></g>
<path d="M1001.9 174.2 L1020.9 193.2 M1001.9 193.2 L1020.9 174.2" fill="none" stroke="#ac2020" stroke-opacity="0.55" stroke-width="3"/>
<g stroke="#ac2020" fill="none"><line x1="1072.9" x2="1072.9" y1="167.1" y2="176.0" stroke-width="4.2" stroke-opacity="0.62"/><line x1="1060.4" x2="1085.4" y1="167.1" y2="167.1" stroke-width="3" stroke-opacity="0.42"/><line x1="1060.4" x2="1085.4" y1="176.0" y2="176.0" stroke-width="3" stroke-opacity="0.42"/></g>
<path d="M1063.4 162.0 L1082.4 181.0 M1063.4 181.0 L1082.4 162.0" fill="none" stroke="#ac2020" stroke-opacity="0.55" stroke-width="3"/>
<g stroke="#ac2020" fill="none"><line x1="1134.3" x2="1134.3" y1="160.8" y2="171.3" stroke-width="4.2" stroke-opacity="0.62"/><line x1="1121.8" x2="1146.8" y1="160.8" y2="160.8" stroke-width="3" stroke-opacity="0.42"/><line x1="1121.8" x2="1146.8" y1="171.3" y2="171.3" stroke-width="3" stroke-opacity="0.42"/></g>
<path d="M1124.8 156.6 L1143.8 175.6 M1124.8 175.6 L1143.8 156.6" fill="none" stroke="#ac2020" stroke-opacity="0.55" stroke-width="3"/>
<g stroke="#ac2020" fill="none"><line x1="1195.8" x2="1195.8" y1="177.4" y2="190.0" stroke-width="4.2" stroke-opacity="0.62"/><line x1="1183.3" x2="1208.3" y1="177.4" y2="177.4" stroke-width="3" stroke-opacity="0.42"/><line x1="1183.3" x2="1208.3" y1="190.0" y2="190.0" stroke-width="3" stroke-opacity="0.42"/></g>
<path d="M1186.3 174.2 L1205.3 193.2 M1186.3 193.2 L1205.3 174.2" fill="none" stroke="#ac2020" stroke-opacity="0.55" stroke-width="3"/>
<g stroke="#ac2020" fill="none"><line x1="1220.3" x2="1220.3" y1="174.2" y2="187.8" stroke-width="4.2" stroke-opacity="0.62"/><line x1="1207.8" x2="1232.8" y1="174.2" y2="174.2" stroke-width="3" stroke-opacity="0.42"/><line x1="1207.8" x2="1232.8" y1="187.8" y2="187.8" stroke-width="3" stroke-opacity="0.42"/></g>
<path d="M1210.8 171.5 L1229.8 190.5 M1210.8 190.5 L1229.8 171.5" fill="none" stroke="#ac2020" stroke-opacity="0.55" stroke-width="3"/>
<g stroke="#ac2020" fill="none"><line x1="1244.9" x2="1244.9" y1="188.1" y2="202.8" stroke-width="4.2" stroke-opacity="0.62"/><line x1="1232.4" x2="1257.4" y1="188.1" y2="188.1" stroke-width="3" stroke-opacity="0.42"/><line x1="1232.4" x2="1257.4" y1="202.8" y2="202.8" stroke-width="3" stroke-opacity="0.42"/></g>
<path d="M1235.4 186.0 L1254.4 205.0 M1235.4 205.0 L1254.4 186.0" fill="none" stroke="#ac2020" stroke-opacity="0.55" stroke-width="3"/>
<g stroke="#ac2020" fill="none"><line x1="1269.5" x2="1269.5" y1="200.4" y2="216.4" stroke-width="4.2" stroke-opacity="0.62"/><line x1="1257.0" x2="1282.0" y1="200.4" y2="200.4" stroke-width="3" stroke-opacity="0.42"/><line x1="1257.0" x2="1282.0" y1="216.4" y2="216.4" stroke-width="3" stroke-opacity="0.42"/></g>
<path d="M1260.0 198.9 L1279.0 217.9 M1260.0 217.9 L1279.0 198.9" fill="none" stroke="#ac2020" stroke-opacity="0.55" stroke-width="3"/>
<g stroke="#ac2020" fill="none"><line x1="1294.1" x2="1294.1" y1="194.6" y2="212.0" stroke-width="4.2" stroke-opacity="0.62"/><line x1="1281.6" x2="1306.6" y1="194.6" y2="194.6" stroke-width="3" stroke-opacity="0.42"/><line x1="1281.6" x2="1306.6" y1="212.0" y2="212.0" stroke-width="3" stroke-opacity="0.42"/></g>
<path d="M1284.6 193.8 L1303.6 212.8 M1284.6 212.8 L1303.6 193.8" fill="none" stroke="#ac2020" stroke-opacity="0.55" stroke-width="3"/>
<g stroke="#ac2020" fill="none"><line x1="1318.7" x2="1318.7" y1="189.9" y2="208.8" stroke-width="4.2" stroke-opacity="0.62"/><line x1="1306.2" x2="1331.2" y1="189.9" y2="189.9" stroke-width="3" stroke-opacity="0.42"/><line x1="1306.2" x2="1331.2" y1="208.8" y2="208.8" stroke-width="3" stroke-opacity="0.42"/></g>
<path d="M1309.2 189.9 L1328.2 208.9 M1309.2 208.9 L1328.2 189.9" fill="none" stroke="#ac2020" stroke-opacity="0.55" stroke-width="3"/>
<g stroke="#ac2020" fill="none"><line x1="1331.0" x2="1331.0" y1="175.1" y2="194.7" stroke-width="4.2" stroke-opacity="0.62"/><line x1="1318.5" x2="1343.5" y1="175.1" y2="175.1" stroke-width="3" stroke-opacity="0.42"/><line x1="1318.5" x2="1343.5" y1="194.7" y2="194.7" stroke-width="3" stroke-opacity="0.42"/></g>
<path d="M1321.5 175.4 L1340.5 194.4 M1321.5 194.4 L1340.5 175.4" fill="none" stroke="#ac2020" stroke-opacity="0.55" stroke-width="3"/>
<g stroke="#ac2020" fill="none"><line x1="1343.2" x2="1343.2" y1="207.3" y2="227.5" stroke-width="4.2" stroke-opacity="0.62"/><line x1="1330.7" x2="1355.7" y1="207.3" y2="207.3" stroke-width="3" stroke-opacity="0.42"/><line x1="1330.7" x2="1355.7" y1="227.5" y2="227.5" stroke-width="3" stroke-opacity="0.42"/></g>
<path d="M1333.7 207.9 L1352.7 226.9 M1333.7 226.9 L1352.7 207.9" fill="none" stroke="#ac2020" stroke-opacity="0.55" stroke-width="3"/>
<g stroke="#ac2020" fill="none"><line x1="1355.5" x2="1355.5" y1="177.2" y2="198.1" stroke-width="4.2" stroke-opacity="0.62"/><line x1="1343.0" x2="1368.0" y1="177.2" y2="177.2" stroke-width="3" stroke-opacity="0.42"/><line x1="1343.0" x2="1368.0" y1="198.1" y2="198.1" stroke-width="3" stroke-opacity="0.42"/></g>
<path d="M1346.0 178.1 L1365.0 197.1 M1346.0 197.1 L1365.0 178.1" fill="none" stroke="#ac2020" stroke-opacity="0.55" stroke-width="3"/>
<g stroke="#ac2020" fill="none"><line x1="1367.8" x2="1367.8" y1="173.0" y2="194.4" stroke-width="4.2" stroke-opacity="0.62"/><line x1="1355.3" x2="1380.3" y1="173.0" y2="173.0" stroke-width="3" stroke-opacity="0.42"/><line x1="1355.3" x2="1380.3" y1="194.4" y2="194.4" stroke-width="3" stroke-opacity="0.42"/></g>
<path d="M1358.3 174.2 L1377.3 193.2 M1358.3 193.2 L1377.3 174.2" fill="none" stroke="#ac2020" stroke-opacity="0.55" stroke-width="3"/>
<g stroke="#ac2020" fill="none"><line x1="1380.1" x2="1380.1" y1="161.0" y2="182.9" stroke-width="4.2" stroke-opacity="0.62"/><line x1="1367.6" x2="1392.6" y1="161.0" y2="161.0" stroke-width="3" stroke-opacity="0.42"/><line x1="1367.6" x2="1392.6" y1="182.9" y2="182.9" stroke-width="3" stroke-opacity="0.42"/></g>
<path d="M1370.6 162.4 L1389.6 181.4 M1370.6 181.4 L1389.6 162.4" fill="none" stroke="#ac2020" stroke-opacity="0.55" stroke-width="3"/>
<g stroke="#ac2020" fill="none"><line x1="1392.4" x2="1392.4" y1="162.0" y2="184.3" stroke-width="4.2" stroke-opacity="0.62"/><line x1="1379.9" x2="1404.9" y1="162.0" y2="162.0" stroke-width="3" stroke-opacity="0.42"/><line x1="1379.9" x2="1404.9" y1="184.3" y2="184.3" stroke-width="3" stroke-opacity="0.42"/></g>
<path d="M1382.9 163.6 L1401.9 182.6 M1382.9 182.6 L1401.9 163.6" fill="none" stroke="#ac2020" stroke-opacity="0.55" stroke-width="3"/>
<g stroke="#ac2020" fill="none"><line x1="1404.7" x2="1404.7" y1="211.7" y2="234.1" stroke-width="4.2" stroke-opacity="0.62"/><line x1="1392.2" x2="1417.2" y1="211.7" y2="211.7" stroke-width="3" stroke-opacity="0.42"/><line x1="1392.2" x2="1417.2" y1="234.1" y2="234.1" stroke-width="3" stroke-opacity="0.42"/></g>
<path d="M1395.2 213.4 L1414.2 232.4 M1395.2 232.4 L1414.2 213.4" fill="none" stroke="#ac2020" stroke-opacity="0.55" stroke-width="3"/>
<g stroke="#000" stroke-width="2.5"><line x1="921.7" x2="921.7" y1="65.4" y2="301.7"/>
<line x1="910.4" x2="921.7" y1="105.3" y2="105.3"/>
<line x1="910.4" x2="921.7" y1="183.7" y2="183.7"/>
<line x1="910.4" x2="921.7" y1="262.1" y2="262.1"/>
</g>
<g font-size="31.5" fill="#000">
<text x="896.5" y="115.7" text-anchor="end">2</text>
<text x="896.5" y="194.1" text-anchor="end">0</text>
<text x="896.5" y="272.5" text-anchor="end">-2</text>
<text x="948.8" y="75" font-size="34.8">(b)</text>
<text x="1084.5" y="28.5">Heating instability</text>
<text transform="translate(802.7,184.9) rotate(-90)" text-anchor="middle" font-size="31.75">Fit Residual (kcounts/s)</text>
<text transform="translate(858.2,316.8) rotate(-90)" text-anchor="middle" font-size="31.3">scale</text>
</g>
<g stroke="#000" fill="#000"><line x1="1263.3" y1="48.4" x2="1307" y2="104" stroke-width="2.3"/><path d="M1324.8 129 L1289.2 103.6 Q1299 105.5 1306.4 104.6 Q1308.6 97 1308.6 88.6 Z" stroke="none"/></g>
<g stroke="#000" fill="none"><line x1="848.5" x2="848.5" y1="181.5" y2="258.2" stroke-width="2.8"/><line x1="848.5" x2="848.5" y1="398.4" y2="414.6" stroke-width="2.8"/><path d="M846 219.7 H831 V406.8 H846" stroke-width="1.6"/></g>
<path d="M847.6 219.7 l-14 -3.8 l4 3.8 l-4 3.8 z M847.6 406.8 l-14 -3.8 l4 3.8 l-4 3.8 z" fill="#000"/>
</g>
<g id="panel-c">
<clipPath id="cc"><rect x="921" y="365" width="554.4" height="396"/></clipPath>
<path d="M950.0 743.9 L954.4 743.7 L958.8 743.4 L963.3 743.1 L967.7 742.8 L972.1 742.5 L976.6 742.2 L981.0 741.9 L985.4 741.6 L989.8 741.2 L994.3 740.9 L998.7 740.5 L1003.1 740.2 L1007.6 739.8 L1012.0 739.4 L1016.4 739.0 L1020.9 738.6 L1025.3 738.2 L1029.7 737.8 L1034.1 737.3 L1038.6 736.9 L1043.0 736.4 L1047.4 735.9 L1051.9 735.4 L1056.3 734.9 L1060.7 734.4 L1065.2 733.8 L1069.6 733.3 L1074.0 732.7 L1078.5 732.1 L1082.9 731.4 L1087.3 730.8 L1091.7 730.1 L1096.2 729.5 L1100.6 728.7 L1105.0 728.0 L1109.5 727.3 L1113.9 726.5 L1118.3 725.7 L1122.8 724.8 L1127.2 724.0 L1131.6 723.1 L1136.1 722.1 L1140.5 721.2 L1144.9 720.2 L1149.3 719.1 L1153.8 718.1 L1158.2 716.9 L1162.6 715.8 L1167.1 714.6 L1171.5 713.4 L1175.9 712.1 L1180.4 710.7 L1184.8 709.3 L1189.2 707.9 L1193.6 706.4 L1198.1 704.9 L1202.5 703.2 L1206.9 701.6 L1211.4 699.8 L1215.8 698.0 L1220.2 696.1 L1224.7 694.2 L1229.1 692.2 L1233.5 690.1 L1238.0 687.9 L1242.4 685.6 L1246.8 683.3 L1251.2 680.8 L1255.7 678.3 L1260.1 675.7 L1264.5 673.0 L1269.0 670.1 L1273.4 667.2 L1277.8 664.2 L1282.3 661.1 L1286.7 657.9 L1291.1 654.6 L1295.6 651.2 L1300.0 647.7 L1304.4 644.2 L1308.8 640.5 L1313.3 636.8 L1317.7 633.0 L1322.1 629.1 L1326.6 625.2 L1331.0 621.3 L1335.4 617.3 L1339.9 613.3 L1344.3 609.4 L1348.7 605.5 L1353.2 601.7 L1357.6 597.9 L1362.0 594.3 L1366.4 590.8 L1370.9 587.5 L1375.3 584.4 L1379.7 581.5 L1384.2 578.8 L1388.6 576.5 L1393.0 574.5 L1397.5 572.8 L1401.9 571.5 L1406.3 570.5 L1410.7 569.9 L1415.2 569.7 L1419.6 569.9 L1424.0 570.5 L1428.5 571.6 L1432.9 573.0 L1437.3 574.8 L1441.8 576.9 L1446.2 579.3 L1450.6 582.1 L1455.1 585.1 L1459.5 588.4 L1463.9 591.8 L1468.3 595.4 L1472.8 599.2 L1477.2 603.1" fill="none" stroke="#a813be" stroke-opacity="0.42" stroke-width="5.1" clip-path="url(#cc)"/>
<path d="M950.0 727.6 L954.4 727.1 L958.8 726.5 L963.3 725.9 L967.7 725.3 L972.1 724.7 L976.6 724.1 L981.0 723.5 L985.4 722.8 L989.8 722.1 L994.3 721.4 L998.7 720.7 L1003.1 720.0 L1007.6 719.2 L1012.0 718.4 L1016.4 717.6 L1020.9 716.8 L1025.3 716.0 L1029.7 715.1 L1034.1 714.2 L1038.6 713.3 L1043.0 712.3 L1047.4 711.3 L1051.9 710.3 L1056.3 709.3 L1060.7 708.2 L1065.2 707.1 L1069.6 706.0 L1074.0 704.8 L1078.5 703.6 L1082.9 702.4 L1087.3 701.1 L1091.7 699.8 L1096.2 698.4 L1100.6 697.0 L1105.0 695.6 L1109.5 694.1 L1113.9 692.5 L1118.3 690.9 L1122.8 689.2 L1127.2 687.5 L1131.6 685.8 L1136.1 683.9 L1140.5 682.0 L1144.9 680.1 L1149.3 678.0 L1153.8 675.9 L1158.2 673.8 L1162.6 671.5 L1167.1 669.2 L1171.5 666.8 L1175.9 664.3 L1180.4 661.7 L1184.8 659.1 L1189.2 656.3 L1193.6 653.4 L1198.1 650.5 L1202.5 647.4 L1206.9 644.2 L1211.4 640.9 L1215.8 637.5 L1220.2 633.9 L1224.7 630.3 L1229.1 626.5 L1233.5 622.6 L1238.0 618.5 L1242.4 614.3 L1246.8 610.0 L1251.2 605.5 L1255.7 600.9 L1260.1 596.1 L1264.5 591.1 L1269.0 586.1 L1273.4 580.8 L1277.8 575.4 L1282.3 569.9 L1286.7 564.2 L1291.1 558.4 L1295.6 552.5 L1300.0 546.4 L1304.4 540.2 L1308.8 533.9 L1313.3 527.5 L1317.7 521.0 L1322.1 514.5 L1326.6 507.9 L1331.0 501.3 L1335.4 494.8 L1339.9 488.2 L1344.3 481.8 L1348.7 475.4 L1353.2 469.2 L1357.6 463.1 L1362.0 457.3 L1366.4 451.8 L1370.9 446.5 L1375.3 441.6 L1379.7 437.0 L1384.2 432.9 L1388.6 429.3 L1393.0 426.1 L1397.5 423.5 L1401.9 421.5 L1406.3 420.0 L1410.7 419.1 L1415.2 418.8 L1419.6 419.1 L1424.0 420.1 L1428.5 421.6 L1432.9 423.8 L1437.3 426.6 L1441.8 429.9 L1446.2 433.7 L1450.6 438.0 L1455.1 442.8 L1459.5 447.9 L1463.9 453.4 L1468.3 459.2 L1472.8 465.2 L1477.2 471.5" fill="none" stroke="#241ca2" stroke-opacity="0.42" stroke-width="5.1" clip-path="url(#cc)"/>
<path d="M950.0 726.4 L954.4 725.8 L958.8 725.2 L963.3 724.6 L967.7 724.0 L972.1 723.3 L976.6 722.7 L981.0 722.0 L985.4 721.3 L989.8 720.6 L994.3 719.9 L998.7 719.1 L1003.1 718.4 L1007.6 717.6 L1012.0 716.8 L1016.4 715.9 L1020.9 715.1 L1025.3 714.2 L1029.7 713.3 L1034.1 712.3 L1038.6 711.4 L1043.0 710.4 L1047.4 709.4 L1051.9 708.3 L1056.3 707.2 L1060.7 706.1 L1065.2 705.0 L1069.6 703.8 L1074.0 702.6 L1078.5 701.3 L1082.9 700.0 L1087.3 698.7 L1091.7 697.3 L1096.2 695.9 L1100.6 694.4 L1105.0 692.9 L1109.5 691.3 L1113.9 689.7 L1118.3 688.0 L1122.8 686.3 L1127.2 684.5 L1131.6 682.6 L1136.1 680.7 L1140.5 678.7 L1144.9 676.7 L1149.3 674.6 L1153.8 672.4 L1158.2 670.1 L1162.6 667.7 L1167.1 665.3 L1171.5 662.8 L1175.9 660.2 L1180.4 657.5 L1184.8 654.7 L1189.2 651.8 L1193.6 648.7 L1198.1 645.6 L1202.5 642.4 L1206.9 639.1 L1211.4 635.6 L1215.8 632.0 L1220.2 628.3 L1224.7 624.4 L1229.1 620.4 L1233.5 616.3 L1238.0 612.0 L1242.4 607.6 L1246.8 603.0 L1251.2 598.3 L1255.7 593.4 L1260.1 588.4 L1264.5 583.2 L1269.0 577.8 L1273.4 572.3 L1277.8 566.6 L1282.3 560.7 L1286.7 554.7 L1291.1 548.6 L1295.6 542.3 L1300.0 535.8 L1304.4 529.2 L1308.8 522.5 L1313.3 515.7 L1317.7 508.9 L1322.1 501.9 L1326.6 494.9 L1331.0 487.9 L1335.4 480.9 L1339.9 473.9 L1344.3 467.0 L1348.7 460.2 L1353.2 453.6 L1357.6 447.1 L1362.0 440.9 L1366.4 435.0 L1370.9 429.3 L1375.3 424.1 L1379.7 419.2 L1384.2 414.8 L1388.6 410.9 L1393.0 407.5 L1397.5 404.7 L1401.9 402.5 L1406.3 400.9 L1410.7 399.9 L1415.2 399.6 L1419.6 399.9 L1424.0 401.0 L1428.5 402.7 L1432.9 405.0 L1437.3 408.0 L1441.8 411.5 L1446.2 415.6 L1450.6 420.2 L1455.1 425.3 L1459.5 430.8 L1463.9 436.7 L1468.3 442.9 L1472.8 449.4 L1477.2 456.1" fill="none" stroke="#ac2020" stroke-opacity="0.42" stroke-width="5.1" clip-path="url(#cc)"/>
<g stroke="#a813be" fill="none"><line x1="950.0" x2="950.0" y1="742.8" y2="744.4" stroke-width="4.2" stroke-opacity="0.62"/><line x1="937.5" x2="962.5" y1="742.8" y2="742.8" stroke-width="3" stroke-opacity="0.42"/><line x1="937.5" x2="962.5" y1="744.4" y2="744.4" stroke-width="3" stroke-opacity="0.42"/></g>
<rect x="940.5" y="734.1" width="19.0" height="19.0" fill="#a813be" fill-opacity="0.4" stroke="#a813be" stroke-opacity="0.5" stroke-width="2.7"/>
<g stroke="#a813be" fill="none"><line x1="1011.4" x2="1011.4" y1="738.1" y2="739.7" stroke-width="4.2" stroke-opacity="0.62"/><line x1="998.9" x2="1023.9" y1="738.1" y2="738.1" stroke-width="3" stroke-opacity="0.42"/><line x1="998.9" x2="1023.9" y1="739.7" y2="739.7" stroke-width="3" stroke-opacity="0.42"/></g>
<rect x="1001.9" y="729.4" width="19.0" height="19.0" fill="#a813be" fill-opacity="0.4" stroke="#a813be" stroke-opacity="0.5" stroke-width="2.7"/>
<g stroke="#a813be" fill="none"><line x1="1072.9" x2="1072.9" y1="730.8" y2="732.4" stroke-width="4.2" stroke-opacity="0.62"/><line x1="1060.4" x2="1085.4" y1="730.8" y2="730.8" stroke-width="3" stroke-opacity="0.42"/><line x1="1060.4" x2="1085.4" y1="732.4" y2="732.4" stroke-width="3" stroke-opacity="0.42"/></g>
<rect x="1063.4" y="722.1" width="19.0" height="19.0" fill="#a813be" fill-opacity="0.4" stroke="#a813be" stroke-opacity="0.5" stroke-width="2.7"/>
<g stroke="#a813be" fill="none"><line x1="1134.3" x2="1134.3" y1="719.9" y2="721.5" stroke-width="4.2" stroke-opacity="0.62"/><line x1="1121.8" x2="1146.8" y1="719.9" y2="719.9" stroke-width="3" stroke-opacity="0.42"/><line x1="1121.8" x2="1146.8" y1="721.5" y2="721.5" stroke-width="3" stroke-opacity="0.42"/></g>
<rect x="1124.8" y="711.2" width="19.0" height="19.0" fill="#a813be" fill-opacity="0.4" stroke="#a813be" stroke-opacity="0.5" stroke-width="2.7"/>
<g stroke="#a813be" fill="none"><line x1="1195.8" x2="1195.8" y1="703.7" y2="705.3" stroke-width="4.2" stroke-opacity="0.62"/><line x1="1183.3" x2="1208.3" y1="703.7" y2="703.7" stroke-width="3" stroke-opacity="0.42"/><line x1="1183.3" x2="1208.3" y1="705.3" y2="705.3" stroke-width="3" stroke-opacity="0.42"/></g>
<rect x="1186.3" y="695.0" width="19.0" height="19.0" fill="#a813be" fill-opacity="0.4" stroke="#a813be" stroke-opacity="0.5" stroke-width="2.7"/>
<g stroke="#a813be" fill="none"><line x1="1220.3" x2="1220.3" y1="695.0" y2="696.6" stroke-width="4.2" stroke-opacity="0.62"/><line x1="1207.8" x2="1232.8" y1="695.0" y2="695.0" stroke-width="3" stroke-opacity="0.42"/><line x1="1207.8" x2="1232.8" y1="696.6" y2="696.6" stroke-width="3" stroke-opacity="0.42"/></g>
<rect x="1210.8" y="686.3" width="19.0" height="19.0" fill="#a813be" fill-opacity="0.4" stroke="#a813be" stroke-opacity="0.5" stroke-width="2.7"/>
<g stroke="#a813be" fill="none"><line x1="1244.9" x2="1244.9" y1="682.0" y2="683.6" stroke-width="4.2" stroke-opacity="0.62"/><line x1="1232.4" x2="1257.4" y1="682.0" y2="682.0" stroke-width="3" stroke-opacity="0.42"/><line x1="1232.4" x2="1257.4" y1="683.6" y2="683.6" stroke-width="3" stroke-opacity="0.42"/></g>
<rect x="1235.4" y="673.3" width="19.0" height="19.0" fill="#a813be" fill-opacity="0.4" stroke="#a813be" stroke-opacity="0.5" stroke-width="2.7"/>
<g stroke="#a813be" fill="none"><line x1="1269.5" x2="1269.5" y1="666.2" y2="667.8" stroke-width="4.2" stroke-opacity="0.62"/><line x1="1257.0" x2="1282.0" y1="666.2" y2="666.2" stroke-width="3" stroke-opacity="0.42"/><line x1="1257.0" x2="1282.0" y1="667.8" y2="667.8" stroke-width="3" stroke-opacity="0.42"/></g>
<rect x="1260.0" y="657.5" width="19.0" height="19.0" fill="#a813be" fill-opacity="0.4" stroke="#a813be" stroke-opacity="0.5" stroke-width="2.7"/>
<g stroke="#a813be" fill="none"><line x1="1294.1" x2="1294.1" y1="650.1" y2="651.7" stroke-width="4.2" stroke-opacity="0.62"/><line x1="1281.6" x2="1306.6" y1="650.1" y2="650.1" stroke-width="3" stroke-opacity="0.42"/><line x1="1281.6" x2="1306.6" y1="651.7" y2="651.7" stroke-width="3" stroke-opacity="0.42"/></g>
<rect x="1284.6" y="641.4" width="19.0" height="19.0" fill="#a813be" fill-opacity="0.4" stroke="#a813be" stroke-opacity="0.5" stroke-width="2.7"/>
<g stroke="#a813be" fill="none"><line x1="1318.7" x2="1318.7" y1="631.2" y2="632.8" stroke-width="4.2" stroke-opacity="0.62"/><line x1="1306.2" x2="1331.2" y1="631.2" y2="631.2" stroke-width="3" stroke-opacity="0.42"/><line x1="1306.2" x2="1331.2" y1="632.8" y2="632.8" stroke-width="3" stroke-opacity="0.42"/></g>
<rect x="1309.2" y="622.5" width="19.0" height="19.0" fill="#a813be" fill-opacity="0.4" stroke="#a813be" stroke-opacity="0.5" stroke-width="2.7"/>
<g stroke="#a813be" fill="none"><line x1="1331.0" x2="1331.0" y1="619.3" y2="620.9" stroke-width="4.2" stroke-opacity="0.62"/><line x1="1318.5" x2="1343.5" y1="619.3" y2="619.3" stroke-width="3" stroke-opacity="0.42"/><line x1="1318.5" x2="1343.5" y1="620.9" y2="620.9" stroke-width="3" stroke-opacity="0.42"/></g>
<rect x="1321.5" y="610.6" width="19.0" height="19.0" fill="#a813be" fill-opacity="0.4" stroke="#a813be" stroke-opacity="0.5" stroke-width="2.7"/>
<g stroke="#a813be" fill="none"><line x1="1343.2" x2="1343.2" y1="610.1" y2="611.7" stroke-width="4.2" stroke-opacity="0.62"/><line x1="1330.7" x2="1355.7" y1="610.1" y2="610.1" stroke-width="3" stroke-opacity="0.42"/><line x1="1330.7" x2="1355.7" y1="611.7" y2="611.7" stroke-width="3" stroke-opacity="0.42"/></g>
<rect x="1333.7" y="601.4" width="19.0" height="19.0" fill="#a813be" fill-opacity="0.4" stroke="#a813be" stroke-opacity="0.5" stroke-width="2.7"/>
<g stroke="#a813be" fill="none"><line x1="1355.5" x2="1355.5" y1="599.3" y2="600.9" stroke-width="4.2" stroke-opacity="0.62"/><line x1="1343.0" x2="1368.0" y1="599.3" y2="599.3" stroke-width="3" stroke-opacity="0.42"/><line x1="1343.0" x2="1368.0" y1="600.9" y2="600.9" stroke-width="3" stroke-opacity="0.42"/></g>
<rect x="1346.0" y="590.6" width="19.0" height="19.0" fill="#a813be" fill-opacity="0.4" stroke="#a813be" stroke-opacity="0.5" stroke-width="2.7"/>
<g stroke="#a813be" fill="none"><line x1="1367.8" x2="1367.8" y1="589.3" y2="590.9" stroke-width="4.2" stroke-opacity="0.62"/><line x1="1355.3" x2="1380.3" y1="589.3" y2="589.3" stroke-width="3" stroke-opacity="0.42"/><line x1="1355.3" x2="1380.3" y1="590.9" y2="590.9" stroke-width="3" stroke-opacity="0.42"/></g>
<rect x="1358.3" y="580.6" width="19.0" height="19.0" fill="#a813be" fill-opacity="0.4" stroke="#a813be" stroke-opacity="0.5" stroke-width="2.7"/>
<g stroke="#a813be" fill="none"><line x1="1380.1" x2="1380.1" y1="583.0" y2="584.6" stroke-width="4.2" stroke-opacity="0.62"/><line x1="1367.6" x2="1392.6" y1="583.0" y2="583.0" stroke-width="3" stroke-opacity="0.42"/><line x1="1367.6" x2="1392.6" y1="584.6" y2="584.6" stroke-width="3" stroke-opacity="0.42"/></g>
<rect x="1370.6" y="574.3" width="19.0" height="19.0" fill="#a813be" fill-opacity="0.4" stroke="#a813be" stroke-opacity="0.5" stroke-width="2.7"/>
<g stroke="#a813be" fill="none"><line x1="1392.4" x2="1392.4" y1="575.3" y2="576.9" stroke-width="4.2" stroke-opacity="0.62"/><line x1="1379.9" x2="1404.9" y1="575.3" y2="575.3" stroke-width="3" stroke-opacity="0.42"/><line x1="1379.9" x2="1404.9" y1="576.9" y2="576.9" stroke-width="3" stroke-opacity="0.42"/></g>
<rect x="1382.9" y="566.6" width="19.0" height="19.0" fill="#a813be" fill-opacity="0.4" stroke="#a813be" stroke-opacity="0.5" stroke-width="2.7"/>
<g stroke="#a813be" fill="none"><line x1="1404.7" x2="1404.7" y1="579.7" y2="581.3" stroke-width="4.2" stroke-opacity="0.62"/><line x1="1392.2" x2="1417.2" y1="579.7" y2="579.7" stroke-width="3" stroke-opacity="0.42"/><line x1="1392.2" x2="1417.2" y1="581.3" y2="581.3" stroke-width="3" stroke-opacity="0.42"/></g>
<rect x="1395.2" y="571.0" width="19.0" height="19.0" fill="#a813be" fill-opacity="0.4" stroke="#a813be" stroke-opacity="0.5" stroke-width="2.7"/>
<g stroke="#241ca2" fill="none"><line x1="950.0" x2="950.0" y1="728.1" y2="729.7" stroke-width="4.2" stroke-opacity="0.62"/><line x1="937.5" x2="962.5" y1="728.1" y2="728.1" stroke-width="3" stroke-opacity="0.42"/><line x1="937.5" x2="962.5" y1="729.7" y2="729.7" stroke-width="3" stroke-opacity="0.42"/></g>
<path d="M950.0 718.2 L960.2 738.6 L939.8 738.6 Z" fill="#241ca2" fill-opacity="0.42" stroke="#241ca2" stroke-opacity="0.52" stroke-width="2.7" stroke-linejoin="miter"/>
<g stroke="#241ca2" fill="none"><line x1="1011.4" x2="1011.4" y1="718.1" y2="719.7" stroke-width="4.2" stroke-opacity="0.62"/><line x1="998.9" x2="1023.9" y1="718.1" y2="718.1" stroke-width="3" stroke-opacity="0.42"/><line x1="998.9" x2="1023.9" y1="719.7" y2="719.7" stroke-width="3" stroke-opacity="0.42"/></g>
<path d="M1011.4 708.2 L1021.6 728.6 L1001.2 728.6 Z" fill="#241ca2" fill-opacity="0.42" stroke="#241ca2" stroke-opacity="0.52" stroke-width="2.7" stroke-linejoin="miter"/>
<g stroke="#241ca2" fill="none"><line x1="1072.9" x2="1072.9" y1="703.3" y2="704.9" stroke-width="4.2" stroke-opacity="0.62"/><line x1="1060.4" x2="1085.4" y1="703.3" y2="703.3" stroke-width="3" stroke-opacity="0.42"/><line x1="1060.4" x2="1085.4" y1="704.9" y2="704.9" stroke-width="3" stroke-opacity="0.42"/></g>
<path d="M1072.9 693.4 L1083.1 713.8 L1062.7 713.8 Z" fill="#241ca2" fill-opacity="0.42" stroke="#241ca2" stroke-opacity="0.52" stroke-width="2.7" stroke-linejoin="miter"/>
<g stroke="#241ca2" fill="none"><line x1="1134.3" x2="1134.3" y1="683.5" y2="685.1" stroke-width="4.2" stroke-opacity="0.62"/><line x1="1121.8" x2="1146.8" y1="683.5" y2="683.5" stroke-width="3" stroke-opacity="0.42"/><line x1="1121.8" x2="1146.8" y1="685.1" y2="685.1" stroke-width="3" stroke-opacity="0.42"/></g>
<path d="M1134.3 673.6 L1144.5 694.0 L1124.1 694.0 Z" fill="#241ca2" fill-opacity="0.42" stroke="#241ca2" stroke-opacity="0.52" stroke-width="2.7" stroke-linejoin="miter"/>
<g stroke="#241ca2" fill="none"><line x1="1195.8" x2="1195.8" y1="651.0" y2="652.6" stroke-width="4.2" stroke-opacity="0.62"/><line x1="1183.3" x2="1208.3" y1="651.0" y2="651.0" stroke-width="3" stroke-opacity="0.42"/><line x1="1183.3" x2="1208.3" y1="652.6" y2="652.6" stroke-width="3" stroke-opacity="0.42"/></g>
<path d="M1195.8 641.1 L1206.0 661.5 L1185.6 661.5 Z" fill="#241ca2" fill-opacity="0.42" stroke="#241ca2" stroke-opacity="0.52" stroke-width="2.7" stroke-linejoin="miter"/>
<g stroke="#241ca2" fill="none"><line x1="1220.3" x2="1220.3" y1="634.3" y2="635.9" stroke-width="4.2" stroke-opacity="0.62"/><line x1="1207.8" x2="1232.8" y1="634.3" y2="634.3" stroke-width="3" stroke-opacity="0.42"/><line x1="1207.8" x2="1232.8" y1="635.9" y2="635.9" stroke-width="3" stroke-opacity="0.42"/></g>
<path d="M1220.3 624.4 L1230.5 644.8 L1210.1 644.8 Z" fill="#241ca2" fill-opacity="0.42" stroke="#241ca2" stroke-opacity="0.52" stroke-width="2.7" stroke-linejoin="miter"/>
<g stroke="#241ca2" fill="none"><line x1="1244.9" x2="1244.9" y1="613.8" y2="615.4" stroke-width="4.2" stroke-opacity="0.62"/><line x1="1232.4" x2="1257.4" y1="613.8" y2="613.8" stroke-width="3" stroke-opacity="0.42"/><line x1="1232.4" x2="1257.4" y1="615.4" y2="615.4" stroke-width="3" stroke-opacity="0.42"/></g>
<path d="M1244.9 603.9 L1255.1 624.3 L1234.7 624.3 Z" fill="#241ca2" fill-opacity="0.42" stroke="#241ca2" stroke-opacity="0.52" stroke-width="2.7" stroke-linejoin="miter"/>
<g stroke="#241ca2" fill="none"><line x1="1269.5" x2="1269.5" y1="585.4" y2="587.0" stroke-width="4.2" stroke-opacity="0.62"/><line x1="1257.0" x2="1282.0" y1="585.4" y2="585.4" stroke-width="3" stroke-opacity="0.42"/><line x1="1257.0" x2="1282.0" y1="587.0" y2="587.0" stroke-width="3" stroke-opacity="0.42"/></g>
<path d="M1269.5 575.5 L1279.7 595.9 L1259.3 595.9 Z" fill="#241ca2" fill-opacity="0.42" stroke="#241ca2" stroke-opacity="0.52" stroke-width="2.7" stroke-linejoin="miter"/>
<g stroke="#241ca2" fill="none"><line x1="1294.1" x2="1294.1" y1="557.3" y2="558.9" stroke-width="4.2" stroke-opacity="0.62"/><line x1="1281.6" x2="1306.6" y1="557.3" y2="557.3" stroke-width="3" stroke-opacity="0.42"/><line x1="1281.6" x2="1306.6" y1="558.9" y2="558.9" stroke-width="3" stroke-opacity="0.42"/></g>
<path d="M1294.1 547.4 L1304.3 567.8 L1283.9 567.8 Z" fill="#241ca2" fill-opacity="0.42" stroke="#241ca2" stroke-opacity="0.52" stroke-width="2.7" stroke-linejoin="miter"/>
<g stroke="#241ca2" fill="none"><line x1="1318.7" x2="1318.7" y1="518.9" y2="520.5" stroke-width="4.2" stroke-opacity="0.62"/><line x1="1306.2" x2="1331.2" y1="518.9" y2="518.9" stroke-width="3" stroke-opacity="0.42"/><line x1="1306.2" x2="1331.2" y1="520.5" y2="520.5" stroke-width="3" stroke-opacity="0.42"/></g>
<path d="M1318.7 509.0 L1328.9 529.4 L1308.5 529.4 Z" fill="#241ca2" fill-opacity="0.42" stroke="#241ca2" stroke-opacity="0.52" stroke-width="2.7" stroke-linejoin="miter"/>
<g stroke="#241ca2" fill="none"><line x1="1331.0" x2="1331.0" y1="502.0" y2="503.6" stroke-width="4.2" stroke-opacity="0.62"/><line x1="1318.5" x2="1343.5" y1="502.0" y2="502.0" stroke-width="3" stroke-opacity="0.42"/><line x1="1318.5" x2="1343.5" y1="503.6" y2="503.6" stroke-width="3" stroke-opacity="0.42"/></g>
<path d="M1331.0 492.1 L1341.2 512.5 L1320.8 512.5 Z" fill="#241ca2" fill-opacity="0.42" stroke="#241ca2" stroke-opacity="0.52" stroke-width="2.7" stroke-linejoin="miter"/>
<g stroke="#241ca2" fill="none"><line x1="1343.2" x2="1343.2" y1="480.3" y2="481.9" stroke-width="4.2" stroke-opacity="0.62"/><line x1="1330.7" x2="1355.7" y1="480.3" y2="480.3" stroke-width="3" stroke-opacity="0.42"/><line x1="1330.7" x2="1355.7" y1="481.9" y2="481.9" stroke-width="3" stroke-opacity="0.42"/></g>
<path d="M1343.2 470.4 L1353.4 490.8 L1333.0 490.8 Z" fill="#241ca2" fill-opacity="0.42" stroke="#241ca2" stroke-opacity="0.52" stroke-width="2.7" stroke-linejoin="miter"/>
<g stroke="#241ca2" fill="none"><line x1="1355.5" x2="1355.5" y1="463.2" y2="464.8" stroke-width="4.2" stroke-opacity="0.62"/><line x1="1343.0" x2="1368.0" y1="463.2" y2="463.2" stroke-width="3" stroke-opacity="0.42"/><line x1="1343.0" x2="1368.0" y1="464.8" y2="464.8" stroke-width="3" stroke-opacity="0.42"/></g>
<path d="M1355.5 453.3 L1365.7 473.7 L1345.3 473.7 Z" fill="#241ca2" fill-opacity="0.42" stroke="#241ca2" stroke-opacity="0.52" stroke-width="2.7" stroke-linejoin="miter"/>
<g stroke="#241ca2" fill="none"><line x1="1367.8" x2="1367.8" y1="443.7" y2="445.3" stroke-width="4.2" stroke-opacity="0.62"/><line x1="1355.3" x2="1380.3" y1="443.7" y2="443.7" stroke-width="3" stroke-opacity="0.42"/><line x1="1355.3" x2="1380.3" y1="445.3" y2="445.3" stroke-width="3" stroke-opacity="0.42"/></g>
<path d="M1367.8 433.8 L1378.0 454.2 L1357.6 454.2 Z" fill="#241ca2" fill-opacity="0.42" stroke="#241ca2" stroke-opacity="0.52" stroke-width="2.7" stroke-linejoin="miter"/>
<g stroke="#241ca2" fill="none"><line x1="1380.1" x2="1380.1" y1="429.4" y2="431.0" stroke-width="4.2" stroke-opacity="0.62"/><line x1="1367.6" x2="1392.6" y1="429.4" y2="429.4" stroke-width="3" stroke-opacity="0.42"/><line x1="1367.6" x2="1392.6" y1="431.0" y2="431.0" stroke-width="3" stroke-opacity="0.42"/></g>
<path d="M1380.1 419.5 L1390.3 439.9 L1369.9 439.9 Z" fill="#241ca2" fill-opacity="0.42" stroke="#241ca2" stroke-opacity="0.52" stroke-width="2.7" stroke-linejoin="miter"/>
<g stroke="#241ca2" fill="none"><line x1="1392.4" x2="1392.4" y1="418.5" y2="420.1" stroke-width="4.2" stroke-opacity="0.62"/><line x1="1379.9" x2="1404.9" y1="418.5" y2="418.5" stroke-width="3" stroke-opacity="0.42"/><line x1="1379.9" x2="1404.9" y1="420.1" y2="420.1" stroke-width="3" stroke-opacity="0.42"/></g>
<path d="M1392.4 408.6 L1402.6 429.0 L1382.2 429.0 Z" fill="#241ca2" fill-opacity="0.42" stroke="#241ca2" stroke-opacity="0.52" stroke-width="2.7" stroke-linejoin="miter"/>
<g stroke="#241ca2" fill="none"><line x1="1404.7" x2="1404.7" y1="417.1" y2="418.7" stroke-width="4.2" stroke-opacity="0.62"/><line x1="1392.2" x2="1417.2" y1="417.1" y2="417.1" stroke-width="3" stroke-opacity="0.42"/><line x1="1392.2" x2="1417.2" y1="418.7" y2="418.7" stroke-width="3" stroke-opacity="0.42"/></g>
<path d="M1404.7 407.2 L1414.9 427.6 L1394.5 427.6 Z" fill="#241ca2" fill-opacity="0.42" stroke="#241ca2" stroke-opacity="0.52" stroke-width="2.7" stroke-linejoin="miter"/>
<g stroke="#ac2020" fill="none"><line x1="950.0" x2="950.0" y1="727.1" y2="728.7" stroke-width="4.2" stroke-opacity="0.62"/><line x1="937.5" x2="962.5" y1="727.1" y2="727.1" stroke-width="3" stroke-opacity="0.42"/><line x1="937.5" x2="962.5" y1="728.7" y2="728.7" stroke-width="3" stroke-opacity="0.42"/></g>
<path d="M940.2 718.1 L959.8 737.7 M940.2 737.7 L959.8 718.1" fill="none" stroke="#ac2020" stroke-opacity="0.55" stroke-width="3"/>
<g stroke="#ac2020" fill="none"><line x1="1011.4" x2="1011.4" y1="716.1" y2="717.7" stroke-width="4.2" stroke-opacity="0.62"/><line x1="998.9" x2="1023.9" y1="716.1" y2="716.1" stroke-width="3" stroke-opacity="0.42"/><line x1="998.9" x2="1023.9" y1="717.7" y2="717.7" stroke-width="3" stroke-opacity="0.42"/></g>
<path d="M1001.6 707.1 L1021.2 726.7 M1001.6 726.7 L1021.2 707.1" fill="none" stroke="#ac2020" stroke-opacity="0.55" stroke-width="3"/>
<g stroke="#ac2020" fill="none"><line x1="1072.9" x2="1072.9" y1="700.9" y2="702.5" stroke-width="4.2" stroke-opacity="0.62"/><line x1="1060.4" x2="1085.4" y1="700.9" y2="700.9" stroke-width="3" stroke-opacity="0.42"/><line x1="1060.4" x2="1085.4" y1="702.5" y2="702.5" stroke-width="3" stroke-opacity="0.42"/></g>
<path d="M1063.1 691.9 L1082.7 711.5 M1063.1 711.5 L1082.7 691.9" fill="none" stroke="#ac2020" stroke-opacity="0.55" stroke-width="3"/>
<g stroke="#ac2020" fill="none"><line x1="1134.3" x2="1134.3" y1="678.9" y2="680.5" stroke-width="4.2" stroke-opacity="0.62"/><line x1="1121.8" x2="1146.8" y1="678.9" y2="678.9" stroke-width="3" stroke-opacity="0.42"/><line x1="1121.8" x2="1146.8" y1="680.5" y2="680.5" stroke-width="3" stroke-opacity="0.42"/></g>
<path d="M1124.5 669.9 L1144.1 689.5 M1124.5 689.5 L1144.1 669.9" fill="none" stroke="#ac2020" stroke-opacity="0.55" stroke-width="3"/>
<g stroke="#ac2020" fill="none"><line x1="1195.8" x2="1195.8" y1="646.5" y2="648.1" stroke-width="4.2" stroke-opacity="0.62"/><line x1="1183.3" x2="1208.3" y1="646.5" y2="646.5" stroke-width="3" stroke-opacity="0.42"/><line x1="1183.3" x2="1208.3" y1="648.1" y2="648.1" stroke-width="3" stroke-opacity="0.42"/></g>
<path d="M1186.0 637.5 L1205.6 657.1 M1186.0 657.1 L1205.6 637.5" fill="none" stroke="#ac2020" stroke-opacity="0.55" stroke-width="3"/>
<g stroke="#ac2020" fill="none"><line x1="1220.3" x2="1220.3" y1="627.1" y2="628.7" stroke-width="4.2" stroke-opacity="0.62"/><line x1="1207.8" x2="1232.8" y1="627.1" y2="627.1" stroke-width="3" stroke-opacity="0.42"/><line x1="1207.8" x2="1232.8" y1="628.7" y2="628.7" stroke-width="3" stroke-opacity="0.42"/></g>
<path d="M1210.5 618.1 L1230.1 637.7 M1210.5 637.7 L1230.1 618.1" fill="none" stroke="#ac2020" stroke-opacity="0.55" stroke-width="3"/>
<g stroke="#ac2020" fill="none"><line x1="1244.9" x2="1244.9" y1="605.4" y2="607.0" stroke-width="4.2" stroke-opacity="0.62"/><line x1="1232.4" x2="1257.4" y1="605.4" y2="605.4" stroke-width="3" stroke-opacity="0.42"/><line x1="1232.4" x2="1257.4" y1="607.0" y2="607.0" stroke-width="3" stroke-opacity="0.42"/></g>
<path d="M1235.1 596.4 L1254.7 616.0 M1235.1 616.0 L1254.7 596.4" fill="none" stroke="#ac2020" stroke-opacity="0.55" stroke-width="3"/>
<g stroke="#ac2020" fill="none"><line x1="1269.5" x2="1269.5" y1="578.8" y2="580.4" stroke-width="4.2" stroke-opacity="0.62"/><line x1="1257.0" x2="1282.0" y1="578.8" y2="578.8" stroke-width="3" stroke-opacity="0.42"/><line x1="1257.0" x2="1282.0" y1="580.4" y2="580.4" stroke-width="3" stroke-opacity="0.42"/></g>
<path d="M1259.7 569.8 L1279.3 589.4 M1259.7 589.4 L1279.3 569.8" fill="none" stroke="#ac2020" stroke-opacity="0.55" stroke-width="3"/>
<g stroke="#ac2020" fill="none"><line x1="1294.1" x2="1294.1" y1="545.5" y2="547.1" stroke-width="4.2" stroke-opacity="0.62"/><line x1="1281.6" x2="1306.6" y1="545.5" y2="545.5" stroke-width="3" stroke-opacity="0.42"/><line x1="1281.6" x2="1306.6" y1="547.1" y2="547.1" stroke-width="3" stroke-opacity="0.42"/></g>
<path d="M1284.3 536.5 L1303.9 556.1 M1284.3 556.1 L1303.9 536.5" fill="none" stroke="#ac2020" stroke-opacity="0.55" stroke-width="3"/>
<g stroke="#ac2020" fill="none"><line x1="1318.7" x2="1318.7" y1="508.1" y2="509.7" stroke-width="4.2" stroke-opacity="0.62"/><line x1="1306.2" x2="1331.2" y1="508.1" y2="508.1" stroke-width="3" stroke-opacity="0.42"/><line x1="1306.2" x2="1331.2" y1="509.7" y2="509.7" stroke-width="3" stroke-opacity="0.42"/></g>
<path d="M1308.9 499.1 L1328.5 518.7 M1308.9 518.7 L1328.5 499.1" fill="none" stroke="#ac2020" stroke-opacity="0.55" stroke-width="3"/>
<g stroke="#ac2020" fill="none"><line x1="1331.0" x2="1331.0" y1="487.3" y2="488.9" stroke-width="4.2" stroke-opacity="0.62"/><line x1="1318.5" x2="1343.5" y1="487.3" y2="487.3" stroke-width="3" stroke-opacity="0.42"/><line x1="1318.5" x2="1343.5" y1="488.9" y2="488.9" stroke-width="3" stroke-opacity="0.42"/></g>
<path d="M1321.2 478.3 L1340.8 497.9 M1321.2 497.9 L1340.8 478.3" fill="none" stroke="#ac2020" stroke-opacity="0.55" stroke-width="3"/>
<g stroke="#ac2020" fill="none"><line x1="1343.2" x2="1343.2" y1="471.2" y2="472.8" stroke-width="4.2" stroke-opacity="0.62"/><line x1="1330.7" x2="1355.7" y1="471.2" y2="471.2" stroke-width="3" stroke-opacity="0.42"/><line x1="1330.7" x2="1355.7" y1="472.8" y2="472.8" stroke-width="3" stroke-opacity="0.42"/></g>
<path d="M1333.4 462.2 L1353.0 481.8 M1333.4 481.8 L1353.0 462.2" fill="none" stroke="#ac2020" stroke-opacity="0.55" stroke-width="3"/>
<g stroke="#ac2020" fill="none"><line x1="1355.5" x2="1355.5" y1="449.7" y2="451.3" stroke-width="4.2" stroke-opacity="0.62"/><line x1="1343.0" x2="1368.0" y1="449.7" y2="449.7" stroke-width="3" stroke-opacity="0.42"/><line x1="1343.0" x2="1368.0" y1="451.3" y2="451.3" stroke-width="3" stroke-opacity="0.42"/></g>
<path d="M1345.7 440.7 L1365.3 460.3 M1345.7 460.3 L1365.3 440.7" fill="none" stroke="#ac2020" stroke-opacity="0.55" stroke-width="3"/>
<g stroke="#ac2020" fill="none"><line x1="1367.8" x2="1367.8" y1="432.4" y2="434.0" stroke-width="4.2" stroke-opacity="0.62"/><line x1="1355.3" x2="1380.3" y1="432.4" y2="432.4" stroke-width="3" stroke-opacity="0.42"/><line x1="1355.3" x2="1380.3" y1="434.0" y2="434.0" stroke-width="3" stroke-opacity="0.42"/></g>
<path d="M1358.0 423.4 L1377.6 443.0 M1358.0 443.0 L1377.6 423.4" fill="none" stroke="#ac2020" stroke-opacity="0.55" stroke-width="3"/>
<g stroke="#ac2020" fill="none"><line x1="1380.1" x2="1380.1" y1="416.8" y2="418.4" stroke-width="4.2" stroke-opacity="0.62"/><line x1="1367.6" x2="1392.6" y1="416.8" y2="416.8" stroke-width="3" stroke-opacity="0.42"/><line x1="1367.6" x2="1392.6" y1="418.4" y2="418.4" stroke-width="3" stroke-opacity="0.42"/></g>
<path d="M1370.3 407.8 L1389.9 427.4 M1370.3 427.4 L1389.9 407.8" fill="none" stroke="#ac2020" stroke-opacity="0.55" stroke-width="3"/>
<g stroke="#ac2020" fill="none"><line x1="1392.4" x2="1392.4" y1="406.1" y2="407.7" stroke-width="4.2" stroke-opacity="0.62"/><line x1="1379.9" x2="1404.9" y1="406.1" y2="406.1" stroke-width="3" stroke-opacity="0.42"/><line x1="1379.9" x2="1404.9" y1="407.7" y2="407.7" stroke-width="3" stroke-opacity="0.42"/></g>
<path d="M1382.6 397.1 L1402.2 416.7 M1382.6 416.7 L1402.2 397.1" fill="none" stroke="#ac2020" stroke-opacity="0.55" stroke-width="3"/>
<g stroke="#ac2020" fill="none"><line x1="1404.7" x2="1404.7" y1="404.5" y2="406.1" stroke-width="4.2" stroke-opacity="0.62"/><line x1="1392.2" x2="1417.2" y1="404.5" y2="404.5" stroke-width="3" stroke-opacity="0.42"/><line x1="1392.2" x2="1417.2" y1="406.1" y2="406.1" stroke-width="3" stroke-opacity="0.42"/></g>
<path d="M1394.9 395.5 L1414.5 415.1 M1394.9 415.1 L1414.5 395.5" fill="none" stroke="#ac2020" stroke-opacity="0.55" stroke-width="3"/>
<line x1="1413.4" x2="1413.4" y1="380.8" y2="759" stroke="#000" stroke-width="3" stroke-dasharray="7 7.26"/>
<g stroke="#000" stroke-width="2.5"><line x1="921.7" x2="921.7" y1="370.4" y2="760.4"/><line x1="920.5" x2="1476" y1="759.2" y2="759.2"/>
<line x1="910.4" x2="921.7" y1="759.2" y2="759.2"/>
<line x1="910.4" x2="921.7" y1="681.7" y2="681.7"/>
<line x1="910.4" x2="921.7" y1="604.2" y2="604.2"/>
<line x1="910.4" x2="921.7" y1="526.7" y2="526.7"/>
<line x1="910.4" x2="921.7" y1="449.2" y2="449.2"/>
<line x1="910.4" x2="921.7" y1="371.7" y2="371.7"/>
<line x1="921.7" x2="921.7" y1="759.2" y2="770"/>
<line x1="1044.6" x2="1044.6" y1="759.2" y2="770"/>
<line x1="1167.5" x2="1167.5" y1="759.2" y2="770"/>
<line x1="1290.4" x2="1290.4" y1="759.2" y2="770"/>
<line x1="1413.3" x2="1413.3" y1="759.2" y2="770"/>
</g>
<g font-size="31.5" fill="#000">
<text x="897" y="769.7" text-anchor="end" font-size="31.2">0</text>
<text x="897" y="692.2" text-anchor="end" font-size="31.2">20</text>
<text x="897" y="614.7" text-anchor="end" font-size="31.2">40</text>
<text x="897" y="537.2" text-anchor="end" font-size="31.2">60</text>
<text x="897" y="459.7" text-anchor="end" font-size="31.2">80</text>
<text x="897" y="382.2" text-anchor="end" font-size="31.2">100</text>
<text x="922.7" y="807" text-anchor="middle">-40</text>
<text x="1168.5" y="807" text-anchor="middle">-20</text>
<text x="1416.3" y="807" text-anchor="middle">0</text>
<text x="955" y="353.5" font-size="34.8">(c)</text>
<text x="1000" y="857">Laser Detuning δ<tspan font-size="26" dy="8.4" dx="0.5">L</tspan><tspan dy="-8.4" dx="-2"> (MHz)</tspan></text>
<text transform="translate(803,581.2) rotate(-90)" text-anchor="middle" font-size="31.65">Photon Count (kcounts/s)</text>
</g>
<rect x="943.9" y="407.6" width="260.6" height="148.3" rx="6" ry="6" fill="#fff" fill-opacity="0.8" stroke="#dcdcdc" stroke-width="2.9"/>
<g stroke="#a813be" fill="none"><line x1="987.5" x2="987.5" y1="417.2" y2="448.2" stroke-width="4.2" stroke-opacity="0.62"/><line x1="975.0" x2="1000.0" y1="417.2" y2="417.2" stroke-width="3" stroke-opacity="0.42"/><line x1="975.0" x2="1000.0" y1="448.2" y2="448.2" stroke-width="3" stroke-opacity="0.42"/></g>
<rect x="977.8" y="423.0" width="19.4" height="19.4" fill="#a813be" fill-opacity="0.4" stroke="#a813be" stroke-opacity="0.5" stroke-width="2.7"/>
<text x="1027.3" y="443.6" font-size="31.3">Initial</text>
<g stroke="#241ca2" fill="none"><line x1="987.5" x2="987.5" y1="463.8" y2="494.8" stroke-width="4.2" stroke-opacity="0.62"/><line x1="975.0" x2="1000.0" y1="463.8" y2="463.8" stroke-width="3" stroke-opacity="0.42"/><line x1="975.0" x2="1000.0" y1="494.8" y2="494.8" stroke-width="3" stroke-opacity="0.42"/></g>
<path d="M987.5 468.4 L997.7 488.8 L977.3 488.8 Z" fill="#241ca2" fill-opacity="0.42" stroke="#241ca2" stroke-opacity="0.52" stroke-width="2.7" stroke-linejoin="miter"/>
<text x="1027.3" y="489.5" font-size="31.3">ADAM-45</text>
<g stroke="#ac2020" fill="none"><line x1="987.5" x2="987.5" y1="510.7" y2="541.7" stroke-width="4.2" stroke-opacity="0.62"/><line x1="975.0" x2="1000.0" y1="510.7" y2="510.7" stroke-width="3" stroke-opacity="0.42"/><line x1="975.0" x2="1000.0" y1="541.7" y2="541.7" stroke-width="3" stroke-opacity="0.42"/></g>
<path d="M977.9 516.6 L997.1 535.8 M977.9 535.8 L997.1 516.6" fill="none" stroke="#ac2020" stroke-opacity="0.55" stroke-width="3"/>
<text x="1027.3" y="536.7" font-size="31.3">MLOOP-45</text>
</g>
</svg>
</body></html>
